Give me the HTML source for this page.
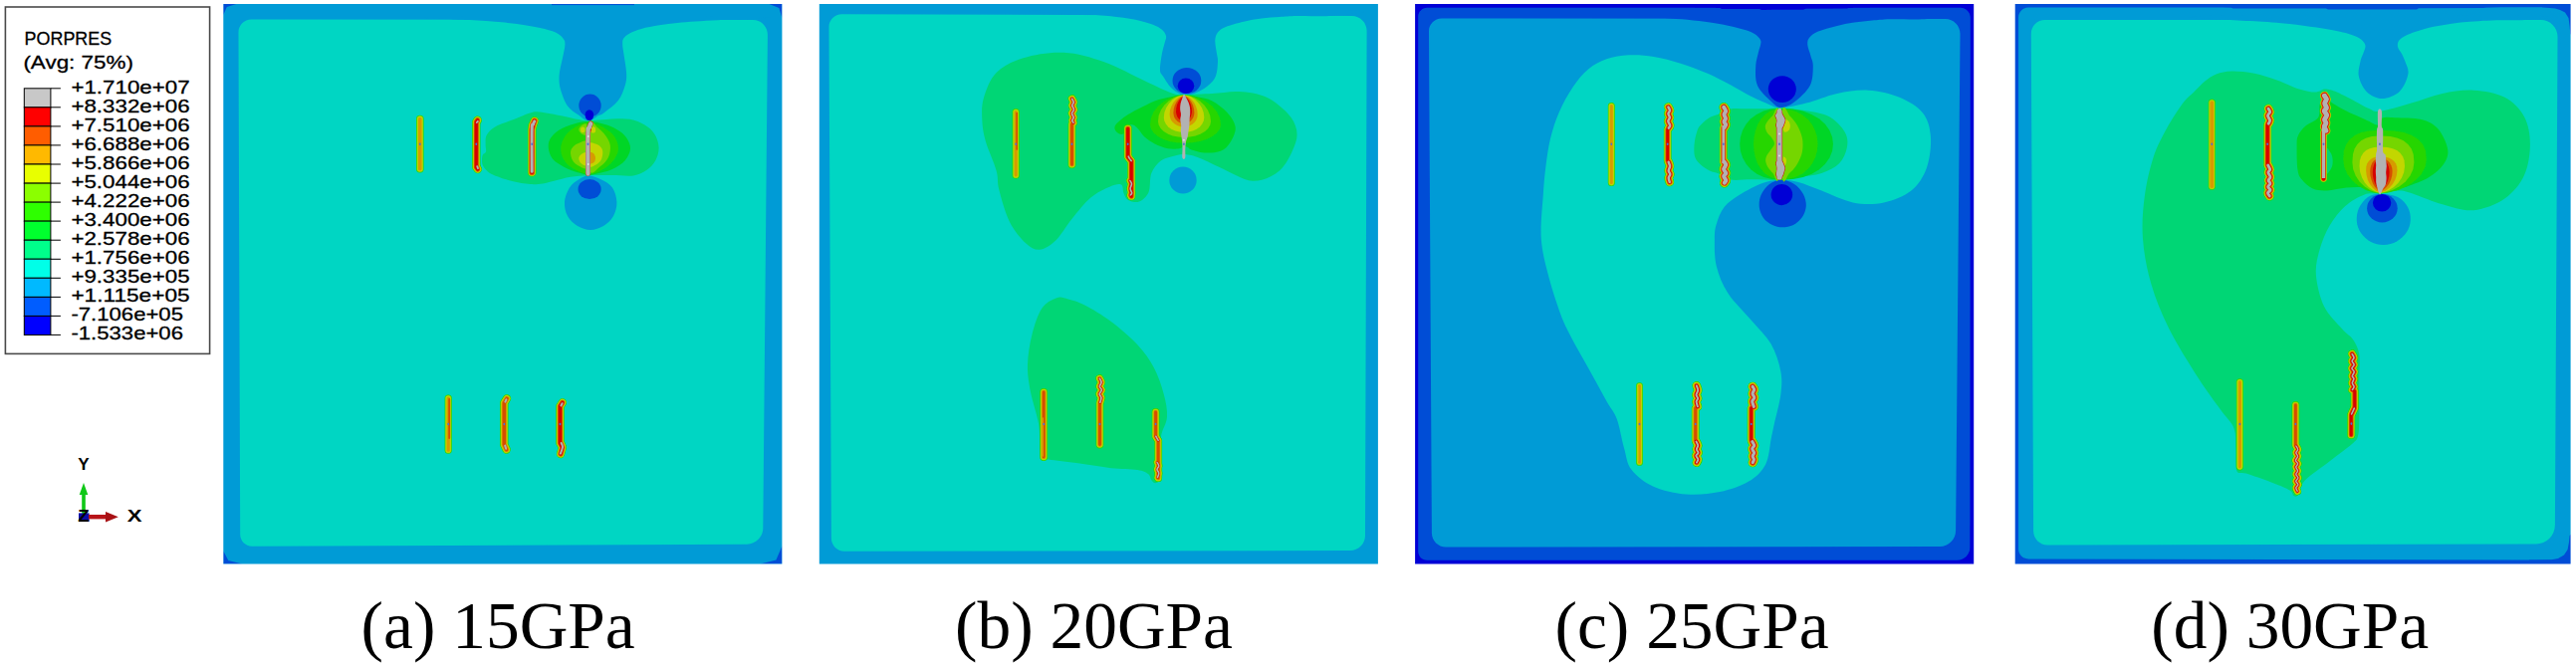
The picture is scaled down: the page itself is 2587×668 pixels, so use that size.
<!DOCTYPE html>
<html lang="en">
<head>
<meta charset="utf-8">
<title>PORPRES contour plots</title>
<style>
html,body{margin:0;padding:0;background:#fff;}
body{width:2587px;height:668px;overflow:hidden;font-family:"Liberation Sans",sans-serif;}
svg{display:block;position:absolute;left:0;top:0;}
.lg text{font-family:"Liberation Sans",sans-serif;fill:#000;stroke:#000;stroke-width:0.3px;}
.tri text{stroke:none;}
.cap text{font-family:"Liberation Serif",serif;fill:#000;}
</style>
</head>
<body>
<svg width="2587" height="668" viewBox="0 0 2587 668">
<defs>
<filter id="soft" x="-1%" y="-1%" width="102%" height="102%"><feGaussianBlur stdDeviation="0.7"/></filter>
<clipPath id="ca"><rect x="224.3" y="4.1" width="561.1" height="562.5"/></clipPath>
<clipPath id="cb"><rect x="822.8" y="4.1" width="561.1" height="562.5"/></clipPath>
<clipPath id="cc"><rect x="1421.1" y="4.1" width="561.1" height="562.5"/></clipPath>
<clipPath id="cd"><rect x="2023.7" y="4.1" width="557.9" height="562.5"/></clipPath>
</defs>
<g class="plots">
<g clip-path="url(#ca)"><g filter="url(#soft)">
<rect x="218.3" y="-1.9" width="573.1" height="574.5" fill="#009BD6"/>
<rect x="224.3" y="4.1" width="561.1" height="562.5" fill="#009BD6"/>
<path d="M224.3 4.1L237.3 4.1L227.8 7.1L224.3 15.1Z" fill="#004ED6"/>
<path d="M224.3 566.6L243.3 566.6L229.3 563.1L224.3 553.6Z" fill="#004ED6"/>
<path d="M785.4 566.6L763.4 566.6L779.4 562.6L785.4 548.6Z" fill="#004ED6"/>
<path d="M785.4 4.1L772.4 4.1L782.4 8.1L785.4 18.1Z" fill="#004ED6"/>
<rect x="554" y="4.1" width="83" height="1" fill="#004ED6"/>
<path d="M239.5 32.6C239.5 25.4 245.3 19.6 252.5 19.6L756 19.9C764.3 19.9 770.9 26.6 770.9 34.9L766.3 530.6C766.3 539.4 759 546.6 750.2 546.7L253.2 548.7C246.6 548.8 241.2 543.4 241.2 536.8Z" fill="#00D6C3"/>
<path d="M440 17C390.8 17.4 449 18.9 457 19.6C465 20.3 477.7 20.3 488 21C498.3 21.7 509.9 22.8 519 24C528 25.2 535.8 26.6 542.3 28C548.8 29.4 554 30.8 557.9 32.6C561.8 34.4 564 36.7 565.6 38.8C567.2 40.9 567.5 41.6 567.4 45C567.3 48.4 565.8 53.9 564.8 59C563.8 64.1 561.9 70.6 561.6 75.8C561.3 81 561.6 84.9 563 90C564.4 95.1 567 102.2 570 106.5C573 110.8 577.5 113 581 115.5C584.5 118 587.6 121.4 590.9 121.5C594.2 121.6 598.5 117.3 601 116C603.5 114.7 602.7 116.2 606 113.7C609.3 111.2 617.1 105.8 620.8 101C624.5 96.2 626.6 89.8 628 85C629.4 80.2 629.3 77.2 629 72C628.7 66.8 627 58.5 626.4 54C625.8 49.5 625.2 47.5 625.2 45C625.2 42.5 624.9 40.7 626.1 38.8C627.3 36.9 629.4 35 632.4 33.4C635.4 31.8 639.1 30.2 644.1 28.9C649.1 27.5 656.2 26.3 662.2 25.3C668.2 24.3 674.2 23.6 680.2 23C686.2 22.4 691.5 21.9 698.3 21.5C705.1 21.1 713 20.6 720.8 20.3C728.6 20 739.8 20.2 745 19.6C750.2 19.1 802.8 17.4 752 17C701.2 16.6 489.2 16.6 440 17Z" fill="#009BD6"/>
<ellipse cx="592.5" cy="106" rx="11.2" ry="11.4" fill="#004ED6"/>
<ellipse cx="591.9" cy="115.6" rx="4.3" ry="5.4" fill="#0000D6"/>
<path d="M590.9 176.5C587.1 176.5 584.1 178.5 581 180.5C577.9 182.5 574.3 184.8 572 188.5C569.7 192.2 567.3 198.2 567 203C566.7 207.8 567.8 213 570 217C572.2 221 576.2 224.7 580 227C583.8 229.3 588.7 231 593 231C597.3 231 602.2 229.3 606 227C609.8 224.7 613.8 221 616 217C618.2 213 619.6 207.8 619.4 203C619.2 198.2 617.6 192.2 615 188.5C612.4 184.8 608 182.5 604 180.5C600 178.5 594.7 176.5 590.9 176.5Z" fill="#009BD6"/>
<ellipse cx="592.1" cy="190.1" rx="11.6" ry="10" fill="#004ED6"/>
<path d="M590.9 121.3C585.4 121.4 585.6 120.9 581.3 120.1C576.9 119.3 571.3 117.8 564.8 116.5C558.2 115.2 547.4 113 542 112.5C536.6 112 537 112.2 532.4 113.5C527.8 114.8 520.3 118.2 514.3 120.6C508.3 123 500.6 125.3 496.3 127.9C492 130.5 490.1 133.2 488.6 136C487.2 138.8 487.7 142.2 487.6 145C487.5 147.8 488.5 150.7 488 152.5C487.5 154.3 485.2 153.9 484.6 156C484 158.1 483.7 162.4 484.4 165C485.1 167.6 487.1 169.7 489 171.5C490.9 173.3 491.8 174.2 496 176C500.2 177.8 508.2 180.5 514.3 182C520.4 183.5 527.3 184.6 532.4 185C537.5 185.4 541 184.9 545 184.4C549 183.9 551.8 182.9 556.5 181.8C561.2 180.7 567.3 178.6 573 177.7C578.7 176.8 584 176.5 590.9 176.2C597.8 175.9 606.9 176 614.4 176C621.9 176 630.2 177.2 636 176.4C641.8 175.6 645.5 173.5 649.2 171C652.9 168.5 656.2 165 658.3 161.2C660.4 157.4 661.8 152.4 661.6 148C661.5 143.6 659.8 138.4 657.4 134.7C655 131 651.6 128.1 647.5 125.6C643.4 123.1 638.1 120.8 632.6 119.8C627.1 118.8 621.4 119.2 614.4 119.5C607.4 119.8 596.4 121.2 590.9 121.3Z" fill="#00D675"/>
<path d="M590.9 122C584.8 122 578.5 123.8 573 125.6C567.5 127.4 561.9 129.8 558.2 133C554.5 136.2 551.3 140.2 550.8 144.6C550.2 149 551.7 155.4 554.9 159.5C558.1 163.6 565.1 167 569.8 169.4C574.5 171.8 579.5 172.9 583 174C586.5 175.1 588.1 175.7 590.9 175.8C593.6 175.9 595.6 175.3 599.5 174.4C603.4 173.5 609.7 172.5 614.4 170.3C619.1 168.1 624.6 164.9 627.7 161.2C630.8 157.5 633.3 152.4 633 148C632.7 143.6 629.9 138.4 626 134.7C622.1 131 615.4 127.7 609.5 125.6C603.6 123.5 597 122 590.9 122Z" fill="#00D627"/>
<path d="M591 122.8C586.3 122.7 581.8 125.3 578 127.5C574.2 129.7 570.5 132.6 568 136C565.5 139.4 563.5 144 563.2 148C562.9 152 564 156.5 566 160C568 163.5 570.8 166.5 575 169C579.2 171.5 586.2 174.7 591 175C595.8 175.3 600 173.1 604 171C608 168.9 612.2 166 615 162.5C617.8 159 620.7 154.2 621 150C621.3 145.8 619.5 140.7 617 137C614.5 133.3 610.3 130.4 606 128C601.7 125.6 595.7 122.9 591 122.8Z" fill="#27D600"/>
<path d="M589.5 143.5C588.2 139.5 584.3 142.9 582 143.6C579.7 144.3 577 145.9 575.5 147.5C574 149.1 573.1 150.8 573 153C572.9 155.2 573.7 158.8 575 161C576.3 163.2 578.6 165.4 581 166.5C583.4 167.6 588.1 171.6 589.5 167.8C590.9 164 590.8 147.5 589.5 143.5Z" fill="#75D600"/>
<path d="M589 124.8C588.2 123.3 585.3 125 584 126C582.7 127 581.2 129.1 581.3 130.5C581.4 131.9 583.2 133.9 584.5 134.7C585.8 135.4 588.2 136.7 589 135C589.8 133.3 589.8 126.3 589 124.8Z" fill="#75D600"/>
<path d="M592 124C593.3 116.8 597.3 126 600 128C602.7 130 605.9 133 608 136C610.1 139 612.3 142.3 612.8 146C613.3 149.7 612.6 154.5 611 158C609.4 161.5 606.2 164.8 603 167C599.8 169.2 593.8 178.2 592 171C590.2 163.8 590.7 131.2 592 124Z" fill="#75D600"/>
<path d="M589.5 154C588.7 152.1 585.9 153.7 584.5 154.5C583.1 155.3 581.5 157.1 581.3 158.7C581.1 160.3 582.1 162.8 583.5 164C584.9 165.2 588.5 167.7 589.5 166C590.5 164.3 590.3 155.9 589.5 154Z" fill="#C3D600"/>
<path d="M592 145C593 141.4 596.1 144.1 598 144.6C599.9 145.1 602.3 146.6 603.5 148C604.7 149.4 605.3 150.8 605.3 153C605.3 155.2 604.7 158.9 603.5 161C602.3 163.1 599.9 164.9 598 165.8C596.1 166.7 593 169.7 592 166.2C591 162.7 591 148.6 592 145Z" fill="#C3D600"/>
<ellipse cx="595.6" cy="130.4" rx="2.6" ry="3.2" fill="#C3D600"/>
<ellipse cx="585.3" cy="130.4" rx="2.2" ry="2.8" fill="#C3D600"/>
<path d="M592 153.7C592.7 152.1 595 153.2 596 154C597 154.8 597.9 157 598 158.5C598.1 160 597.5 162.1 596.5 163C595.5 163.9 592.8 165.4 592 163.8C591.2 162.2 591.3 155.3 592 153.7Z" fill="#D69B00"/>
<path d="M421.8 119.6L421.8 169.8" fill="none" stroke="#27D600" stroke-width="7.5" stroke-linecap="round" stroke-linejoin="round"/>
<path d="M421.8 119.6L421.8 169.8" fill="none" stroke="#75D600" stroke-width="6.6" stroke-linecap="round" stroke-linejoin="round"/>
<path d="M421.8 119.6L421.8 169.8" fill="none" stroke="#C3D600" stroke-width="5.5" stroke-linecap="round" stroke-linejoin="round"/>
<path d="M421.8 119.6L421.8 169.8" fill="none" stroke="#D69B00" stroke-width="3.5" stroke-linecap="round" stroke-linejoin="round"/>
<ellipse cx="421.8" cy="144.7" rx="0.9" ry="1.3" fill="#4F6FD0"/>
<path d="M479.6 120.6L478.3 122.6L478.3 168L479.8 170" fill="none" stroke="#27D600" stroke-width="8.3" stroke-linecap="round" stroke-linejoin="round"/>
<path d="M478.8 123L479.9 121.8" fill="none" stroke="#27D600" stroke-width="7" stroke-linecap="round" stroke-linejoin="round"/>
<path d="M479.2 167.2L480 169.2" fill="none" stroke="#27D600" stroke-width="7" stroke-linecap="round" stroke-linejoin="round"/>
<path d="M479.6 120.6L478.3 122.6L478.3 168L479.8 170" fill="none" stroke="#75D600" stroke-width="7.4" stroke-linecap="round" stroke-linejoin="round"/>
<path d="M478.8 123L479.9 121.8" fill="none" stroke="#75D600" stroke-width="6.1" stroke-linecap="round" stroke-linejoin="round"/>
<path d="M479.2 167.2L480 169.2" fill="none" stroke="#75D600" stroke-width="6.1" stroke-linecap="round" stroke-linejoin="round"/>
<path d="M479.6 120.6L478.3 122.6L478.3 168L479.8 170" fill="none" stroke="#C3D600" stroke-width="6.5" stroke-linecap="round" stroke-linejoin="round"/>
<path d="M478.8 123L479.9 121.8" fill="none" stroke="#C3D600" stroke-width="5.2" stroke-linecap="round" stroke-linejoin="round"/>
<path d="M479.2 167.2L480 169.2" fill="none" stroke="#C3D600" stroke-width="5.2" stroke-linecap="round" stroke-linejoin="round"/>
<path d="M479.6 120.6L478.3 122.6L478.3 168L479.8 170" fill="none" stroke="#D69B00" stroke-width="5.5" stroke-linecap="round" stroke-linejoin="round"/>
<path d="M478.8 123L479.9 121.8" fill="none" stroke="#D69B00" stroke-width="4.2" stroke-linecap="round" stroke-linejoin="round"/>
<path d="M479.2 167.2L480 169.2" fill="none" stroke="#D69B00" stroke-width="4.2" stroke-linecap="round" stroke-linejoin="round"/>
<path d="M479.6 120.6L478.3 122.6L478.3 168L479.8 170" fill="none" stroke="#D64E00" stroke-width="4.5" stroke-linecap="round" stroke-linejoin="round"/>
<path d="M478.8 123L479.9 121.8" fill="none" stroke="#D64E00" stroke-width="3.2" stroke-linecap="round" stroke-linejoin="round"/>
<path d="M479.2 167.2L480 169.2" fill="none" stroke="#D64E00" stroke-width="3.2" stroke-linecap="round" stroke-linejoin="round"/>
<path d="M479.6 120.6L478.3 122.6L478.3 168L479.8 170" fill="none" stroke="#D60000" stroke-width="3.1" stroke-linecap="round" stroke-linejoin="round"/>
<path d="M478.8 123L479.9 121.8" fill="none" stroke="#B2B2B2" stroke-width="1.8" stroke-linecap="round" stroke-linejoin="round"/>
<path d="M479.2 167.2L480 169.2" fill="none" stroke="#B2B2B2" stroke-width="1.8" stroke-linecap="round" stroke-linejoin="round"/>
<ellipse cx="478.3" cy="144.7" rx="0.9" ry="1.3" fill="#4F6FD0"/>
<path d="M534.2 173.2L534.2 130L535.4 125L536.8 121.4" fill="none" stroke="#27D600" stroke-width="8.6" stroke-linecap="round" stroke-linejoin="round"/>
<path d="M534.2 172.2C534.2 165.2 534 137.9 534.2 130C534.4 122.1 535 126.4 535.4 125C535.8 123.6 536.6 122.3 536.8 121.8" fill="none" stroke="#27D600" stroke-width="8" stroke-linecap="round" stroke-linejoin="round"/>
<path d="M534.2 173.2L534.2 130L535.4 125L536.8 121.4" fill="none" stroke="#75D600" stroke-width="7.6" stroke-linecap="round" stroke-linejoin="round"/>
<path d="M534.2 172.2C534.2 165.2 534 137.9 534.2 130C534.4 122.1 535 126.4 535.4 125C535.8 123.6 536.6 122.3 536.8 121.8" fill="none" stroke="#75D600" stroke-width="7" stroke-linecap="round" stroke-linejoin="round"/>
<path d="M534.2 173.2L534.2 130L535.4 125L536.8 121.4" fill="none" stroke="#C3D600" stroke-width="6.8" stroke-linecap="round" stroke-linejoin="round"/>
<path d="M534.2 172.2C534.2 165.2 534 137.9 534.2 130C534.4 122.1 535 126.4 535.4 125C535.8 123.6 536.6 122.3 536.8 121.8" fill="none" stroke="#C3D600" stroke-width="6.2" stroke-linecap="round" stroke-linejoin="round"/>
<path d="M534.2 173.2L534.2 130L535.4 125L536.8 121.4" fill="none" stroke="#D69B00" stroke-width="6" stroke-linecap="round" stroke-linejoin="round"/>
<path d="M534.2 172.2C534.2 165.2 534 137.9 534.2 130C534.4 122.1 535 126.4 535.4 125C535.8 123.6 536.6 122.3 536.8 121.8" fill="none" stroke="#D69B00" stroke-width="5.3" stroke-linecap="round" stroke-linejoin="round"/>
<path d="M534.2 173.2L534.2 130L535.4 125L536.8 121.4" fill="none" stroke="#D64E00" stroke-width="5.2" stroke-linecap="round" stroke-linejoin="round"/>
<path d="M534.2 172.2C534.2 165.2 534 137.9 534.2 130C534.4 122.1 535 126.4 535.4 125C535.8 123.6 536.6 122.3 536.8 121.8" fill="none" stroke="#D64E00" stroke-width="4.5" stroke-linecap="round" stroke-linejoin="round"/>
<path d="M534.2 173.2L534.2 130L535.4 125L536.8 121.4" fill="none" stroke="#D60000" stroke-width="3.6" stroke-linecap="round" stroke-linejoin="round"/>
<path d="M534.2 172.2C534.2 165.2 534 137.9 534.2 130C534.4 122.1 535 126.4 535.4 125C535.8 123.6 536.6 122.3 536.8 121.8" fill="none" stroke="#B2B2B2" stroke-width="3" stroke-linecap="round" stroke-linejoin="round"/>
<ellipse cx="534.2" cy="144.7" rx="0.9" ry="1.3" fill="#4F6FD0"/>
<path d="M590.5 174.5L590.5 134L591.8 128L593.2 124" fill="none" stroke="#D60000" stroke-width="4.8" stroke-linecap="round" stroke-linejoin="round"/>
<path d="M590.5 174.5C590.5 167.8 590.3 141.8 590.5 134C590.7 126.2 591.3 129.6 591.8 128C592.2 126.4 593 124.8 593.2 124.2" fill="none" stroke="#B2B2B2" stroke-width="4.3" stroke-linecap="round" stroke-linejoin="round"/>
<ellipse cx="590.5" cy="144.7" rx="0.9" ry="1.3" fill="#4F6FD0"/>
<path d="M590.6 174L590.6 176.2" fill="none" stroke="#B2B2B2" stroke-width="2.8" stroke-linecap="butt" stroke-linejoin="round"/>
<ellipse cx="590.8" cy="137" rx="0.9" ry="0.9" fill="#E6E6E6"/>
<ellipse cx="590.8" cy="165" rx="0.9" ry="0.9" fill="#E6E6E6"/>
<path d="M450.2 400L450.2 452.2" fill="none" stroke="#27D600" stroke-width="7.2" stroke-linecap="round" stroke-linejoin="round"/>
<path d="M450.2 400L450.2 452.2" fill="none" stroke="#75D600" stroke-width="6.2" stroke-linecap="round" stroke-linejoin="round"/>
<path d="M450.2 400L450.2 452.2" fill="none" stroke="#C3D600" stroke-width="5.2" stroke-linecap="round" stroke-linejoin="round"/>
<path d="M450.2 400L450.2 452.2" fill="none" stroke="#D69B00" stroke-width="3.2" stroke-linecap="round" stroke-linejoin="round"/>
<path d="M451.2 401L451.2 440" fill="none" stroke="#D64E00" stroke-width="1.9" stroke-linecap="round" stroke-linejoin="round"/>
<ellipse cx="450.2" cy="426" rx="0.9" ry="1.3" fill="#4F6FD0"/>
<path d="M509 400.4L506.3 404.8L506.3 446.6L508.6 451.6" fill="none" stroke="#27D600" stroke-width="8.4" stroke-linecap="round" stroke-linejoin="round"/>
<path d="M507.4 403.6L508.4 401.4" fill="none" stroke="#27D600" stroke-width="6.9" stroke-linecap="round" stroke-linejoin="round"/>
<path d="M507.2 447.6L508.2 450.8" fill="none" stroke="#27D600" stroke-width="6.9" stroke-linecap="round" stroke-linejoin="round"/>
<path d="M509 400.4L506.3 404.8L506.3 446.6L508.6 451.6" fill="none" stroke="#75D600" stroke-width="7.3" stroke-linecap="round" stroke-linejoin="round"/>
<path d="M507.4 403.6L508.4 401.4" fill="none" stroke="#75D600" stroke-width="5.8" stroke-linecap="round" stroke-linejoin="round"/>
<path d="M507.2 447.6L508.2 450.8" fill="none" stroke="#75D600" stroke-width="5.8" stroke-linecap="round" stroke-linejoin="round"/>
<path d="M509 400.4L506.3 404.8L506.3 446.6L508.6 451.6" fill="none" stroke="#C3D600" stroke-width="6.5" stroke-linecap="round" stroke-linejoin="round"/>
<path d="M507.4 403.6L508.4 401.4" fill="none" stroke="#C3D600" stroke-width="5" stroke-linecap="round" stroke-linejoin="round"/>
<path d="M507.2 447.6L508.2 450.8" fill="none" stroke="#C3D600" stroke-width="5" stroke-linecap="round" stroke-linejoin="round"/>
<path d="M509 400.4L506.3 404.8L506.3 446.6L508.6 451.6" fill="none" stroke="#D69B00" stroke-width="5.2" stroke-linecap="round" stroke-linejoin="round"/>
<path d="M507.4 403.6L508.4 401.4" fill="none" stroke="#D69B00" stroke-width="3.8" stroke-linecap="round" stroke-linejoin="round"/>
<path d="M507.2 447.6L508.2 450.8" fill="none" stroke="#D69B00" stroke-width="3.8" stroke-linecap="round" stroke-linejoin="round"/>
<path d="M509 400.4L506.3 404.8L506.3 446.6L508.6 451.6" fill="none" stroke="#D64E00" stroke-width="3.5" stroke-linecap="round" stroke-linejoin="round"/>
<path d="M507.4 403.6L508.4 401.4" fill="none" stroke="#B2B2B2" stroke-width="2" stroke-linecap="round" stroke-linejoin="round"/>
<path d="M507.2 447.6L508.2 450.8" fill="none" stroke="#B2B2B2" stroke-width="2" stroke-linecap="round" stroke-linejoin="round"/>
<ellipse cx="506.3" cy="426" rx="0.9" ry="1.3" fill="#4F6FD0"/>
<path d="M564.8 404.4L562.5 408L562.5 445L564.8 449.5L563 456" fill="none" stroke="#27D600" stroke-width="8.4" stroke-linecap="round" stroke-linejoin="round"/>
<path d="M563.4 407.4L564.6 405.2" fill="none" stroke="#27D600" stroke-width="7.2" stroke-linecap="round" stroke-linejoin="round"/>
<path d="M563.6 445C563.8 445.7 565.1 447.2 565 449C564.9 450.8 563.2 454.5 562.8 455.6" fill="none" stroke="#27D600" stroke-width="7.2" stroke-linecap="round" stroke-linejoin="round"/>
<path d="M564.8 404.4L562.5 408L562.5 445L564.8 449.5L563 456" fill="none" stroke="#75D600" stroke-width="7.5" stroke-linecap="round" stroke-linejoin="round"/>
<path d="M563.4 407.4L564.6 405.2" fill="none" stroke="#75D600" stroke-width="6.3" stroke-linecap="round" stroke-linejoin="round"/>
<path d="M563.6 445C563.8 445.7 565.1 447.2 565 449C564.9 450.8 563.2 454.5 562.8 455.6" fill="none" stroke="#75D600" stroke-width="6.3" stroke-linecap="round" stroke-linejoin="round"/>
<path d="M564.8 404.4L562.5 408L562.5 445L564.8 449.5L563 456" fill="none" stroke="#C3D600" stroke-width="6.7" stroke-linecap="round" stroke-linejoin="round"/>
<path d="M563.4 407.4L564.6 405.2" fill="none" stroke="#C3D600" stroke-width="5.5" stroke-linecap="round" stroke-linejoin="round"/>
<path d="M563.6 445C563.8 445.7 565.1 447.2 565 449C564.9 450.8 563.2 454.5 562.8 455.6" fill="none" stroke="#C3D600" stroke-width="5.5" stroke-linecap="round" stroke-linejoin="round"/>
<path d="M564.8 404.4L562.5 408L562.5 445L564.8 449.5L563 456" fill="none" stroke="#D69B00" stroke-width="5.7" stroke-linecap="round" stroke-linejoin="round"/>
<path d="M563.4 407.4L564.6 405.2" fill="none" stroke="#D69B00" stroke-width="4.5" stroke-linecap="round" stroke-linejoin="round"/>
<path d="M563.6 445C563.8 445.7 565.1 447.2 565 449C564.9 450.8 563.2 454.5 562.8 455.6" fill="none" stroke="#D69B00" stroke-width="4.5" stroke-linecap="round" stroke-linejoin="round"/>
<path d="M564.8 404.4L562.5 408L562.5 445L564.8 449.5L563 456" fill="none" stroke="#D64E00" stroke-width="4.7" stroke-linecap="round" stroke-linejoin="round"/>
<path d="M563.4 407.4L564.6 405.2" fill="none" stroke="#D64E00" stroke-width="3.4" stroke-linecap="round" stroke-linejoin="round"/>
<path d="M563.6 445C563.8 445.7 565.1 447.2 565 449C564.9 450.8 563.2 454.5 562.8 455.6" fill="none" stroke="#D64E00" stroke-width="3.4" stroke-linecap="round" stroke-linejoin="round"/>
<path d="M564.8 404.4L562.5 408L562.5 445L564.8 449.5L563 456" fill="none" stroke="#D60000" stroke-width="3.2" stroke-linecap="round" stroke-linejoin="round"/>
<path d="M563.4 407.4L564.6 405.2" fill="none" stroke="#B2B2B2" stroke-width="2" stroke-linecap="round" stroke-linejoin="round"/>
<path d="M563.6 445C563.8 445.7 565.1 447.2 565 449C564.9 450.8 563.2 454.5 562.8 455.6" fill="none" stroke="#B2B2B2" stroke-width="2" stroke-linecap="round" stroke-linejoin="round"/>
<ellipse cx="562.5" cy="426" rx="0.9" ry="1.3" fill="#4F6FD0"/>
</g></g>
<g clip-path="url(#cb)"><g filter="url(#soft)">
<rect x="816.8" y="-1.9" width="573.1" height="574.5" fill="#009BD6"/>
<rect x="822.8" y="4.1" width="561.1" height="562.5" fill="#009BD6"/>
<path d="M832.5 27.2C832.4 20 838.2 14.2 845.4 14.2L1357.6 15.9C1365.9 15.9 1372.6 22.6 1372.6 30.9L1371 538C1371 546.3 1364.3 553 1356 553L848 553.8C840.8 553.8 835 548 834.9 540.8Z" fill="#00D6C3"/>
<path d="M1050 10C1004 10.7 1065 13.2 1074 14.1C1083 15 1095 14.7 1103.7 15.3C1112.4 15.9 1119.5 16.7 1126.3 17.6C1133.1 18.5 1139 19.5 1144.3 20.7C1149.6 21.9 1154.1 23.3 1157.9 24.8C1161.7 26.3 1164.7 27.9 1166.9 29.8C1169.1 31.7 1170.5 33.9 1171 36.1C1171.5 38.4 1170.3 40.3 1169.6 43.3C1168.9 46.3 1167.7 49.6 1166.9 54.1C1166.1 58.6 1164.8 66.7 1165 70.4C1165.2 74.1 1166.2 73.6 1168 76.5C1169.8 79.4 1173.2 85.1 1176 88C1178.8 90.9 1182.3 92.8 1184.5 94C1186.7 95.2 1186.5 95.2 1189 95.2C1191.5 95.2 1195.4 95.5 1199.3 94C1203.2 92.5 1209 89.4 1212.6 86.5C1216.2 83.6 1219.2 80.6 1220.9 76.5C1222.6 72.4 1222.8 65.8 1223 62C1223.2 58.2 1222.5 57.6 1222 54C1221.5 50.4 1220.1 44.2 1220.3 40.6C1220.5 37 1221.2 34.8 1223 32.5C1224.8 30.2 1226.7 28.8 1231 27C1235.3 25.2 1243 23.1 1249 21.7C1255 20.3 1261 19.3 1267 18.5C1273 17.7 1279 17.4 1285 17C1291 16.6 1293.8 16.2 1303 16C1312.2 15.8 1332.2 16.8 1340 15.8C1347.8 14.8 1398.3 11 1350 10C1301.7 9 1096 9.3 1050 10Z" fill="#009BD6"/>
<ellipse cx="1191.9" cy="81" rx="14.4" ry="13" fill="#004ED6"/>
<ellipse cx="1191" cy="86.3" rx="8.3" ry="7.8" fill="#0000D6"/>
<path d="M1189 95C1182.2 94.9 1183.3 95.7 1176.7 93.4C1170.1 91.1 1160.9 86.4 1149.6 81.2C1138.3 76 1122.5 67 1109 62.3C1095.5 57.6 1081.8 53.5 1068.3 52.8C1054.8 52.1 1039 54.8 1027.7 58.2C1016.4 61.6 1007.2 66.4 1000.6 73C994 79.6 990.4 90.2 988 98C985.6 105.8 986 112.7 986.3 120C986.6 127.3 987.4 133.1 989.8 141.7C992.2 150.3 998.4 163.3 1000.6 171.4C1002.9 179.5 1001.1 181.8 1003.3 190.4C1005.5 199 1009.5 213.9 1014 222.9C1018.5 231.9 1025.4 239.8 1030.4 244.5C1035.4 249.2 1039.1 251.2 1044 250.8C1048.9 250.4 1054.6 246.9 1060 241.8C1065.4 236.7 1070.5 227.2 1076.4 220C1082.3 212.8 1089.1 203.9 1095.4 198.5C1101.7 193.1 1109.2 189.9 1114.3 187.7C1119.4 185.5 1123.6 184.4 1126 185.5C1128.4 186.6 1127.3 191.4 1128.5 194C1129.7 196.6 1130.4 199.6 1133 201C1135.6 202.4 1140.6 203.9 1144 202.6C1147.4 201.3 1151.5 197.8 1153.6 193C1155.6 188.2 1154.3 179.2 1156.3 174C1158.3 168.8 1162.5 164.3 1165.8 161.6C1169.1 158.9 1172.2 158.7 1176 157.6C1179.8 156.5 1184 154.9 1188.5 155C1193 155.1 1196.5 155.8 1202.7 158C1208.9 160.2 1216.6 164.6 1225.8 168.5C1235 172.4 1247.9 181.2 1257.8 181.7C1267.7 182.2 1277.9 177.2 1284.9 171.4C1291.9 165.6 1297 153.9 1299.8 147C1302.6 140.1 1303.1 135.6 1302 130C1300.9 124.5 1298.1 119.1 1293 113.7C1287.9 108.3 1279.6 101.1 1271.5 97.5C1263.4 93.9 1253.4 92.6 1244.4 92C1235.4 91.4 1226.5 93.5 1217.3 94C1208.1 94.5 1195.8 95.1 1189 95Z" fill="#00D675"/>
<ellipse cx="1188" cy="181" rx="13.7" ry="13.6" fill="#009BD6"/>
<path d="M1189 95.3C1184.6 95.3 1181.1 96.2 1176.2 97.2C1171.3 98.2 1165.1 99.3 1159.6 101.4C1154.1 103.5 1148 107 1143 109.6C1138 112.2 1133.8 114.2 1129.9 117C1126.1 119.8 1121.3 123.6 1119.9 126.2C1118.5 128.8 1120.2 131.4 1121.6 132.8C1122.9 134.2 1126.2 135.6 1128 134.5C1129.8 133.4 1130.8 127.5 1132.5 126C1134.2 124.5 1136.2 124.9 1138 125.5C1139.8 126.1 1141 127.5 1143 129.5C1145 131.6 1146.9 135.3 1149.7 137.8C1152.5 140.3 1155.7 142.5 1159.6 144.4C1163.5 146.3 1168.8 148.5 1172.9 149.3C1177.1 150.1 1181.8 149.7 1184.5 149.3C1187.2 148.9 1187.4 147.2 1188.8 147C1190.2 146.8 1191.8 147.5 1193 148C1194.2 148.5 1193.3 149.3 1196 150.2C1198.7 151.1 1204.3 153.2 1209.3 153.5C1214.3 153.8 1221.4 153.6 1225.8 151.8C1230.2 150 1233.2 146.7 1235.7 142.7C1238.2 138.7 1241.2 132.8 1240.7 127.8C1240.2 122.8 1236.3 117.4 1232.4 113C1228.5 108.6 1222.5 104 1217.5 101.4C1212.5 98.8 1207.3 98.2 1202.6 97.2C1197.8 96.2 1193.4 95.3 1189 95.3Z" fill="#00D627"/>
<path d="M1189 95.4L1182.5 96.1L1175.4 98.3L1168.8 101.9L1163.1 106.5L1158.7 112.2L1155.9 118.4L1155 125L1155.9 129.2L1158.4 133.2L1162.4 136.7L1167.8 139.7L1174.2 141.9L1181.4 143.3L1189 143.8L1197.2 143.3L1205.1 141.9L1212.1 139.7L1217.9 136.7L1222.3 133.2L1225.1 129.2L1226 125L1225 118.4L1222 112.2L1217.2 106.5L1211 101.9L1203.8 98.3L1196.1 96.1Z" fill="#27D600"/>
<path d="M1189 95.4L1184.4 96.1L1179 98L1173.9 101.2L1169.4 105.4L1165.9 110.5L1163.7 116.1L1163 122L1163.7 125.6L1165.6 128.9L1168.7 132L1172.8 134.5L1177.7 136.4L1183.2 137.6L1189 138L1195 137.6L1200.7 136.4L1205.8 134.5L1210.1 132L1213.3 128.9L1215.3 125.6L1216 122L1215.2 116.1L1212.9 110.5L1209.3 105.4L1204.7 101.2L1199.3 98L1193.8 96.1Z" fill="#75D600"/>
<path d="M1189 95.4L1185.7 96L1181.6 97.6L1177.5 100.3L1174 103.9L1171.2 108.2L1169.4 113L1168.8 118L1169.3 121.3L1170.8 124.5L1173.2 127.4L1176.4 129.7L1180.2 131.5L1184.5 132.6L1189 133L1193.5 132.6L1197.8 131.5L1201.7 129.7L1204.9 127.4L1207.3 124.5L1208.8 121.3L1209.3 118L1208.7 113L1206.9 108.2L1204.1 103.9L1200.5 100.3L1196.5 97.6L1192.3 96Z" fill="#C3D600"/>
<path d="M1189 95.9L1186.8 96.4L1183.9 97.8L1181 100.1L1178.4 103.1L1176.4 106.7L1175 110.7L1174.6 115L1175 117.8L1176 120.4L1177.7 122.8L1180 124.8L1182.8 126.3L1185.8 127.2L1189 127.5L1192 127.2L1194.9 126.3L1197.5 124.8L1199.7 122.8L1201.3 120.4L1202.4 117.8L1202.7 115L1202.3 110.7L1201 106.7L1199.1 103.1L1196.6 100.1L1193.8 97.8L1191.1 96.4Z" fill="#D69B00"/>
<path d="M1189 96.4L1187.5 96.8L1185.4 98.1L1183.3 100.1L1181.3 102.8L1179.7 106.1L1178.7 109.7L1178.4 113.5L1178.7 115.8L1179.4 118.1L1180.7 120L1182.4 121.7L1184.4 123L1186.6 123.7L1189 124L1191.3 123.7L1193.5 123L1195.5 121.7L1197.1 120L1198.4 118.1L1199.1 115.8L1199.4 113.5L1199.1 109.7L1198.1 106.1L1196.6 102.8L1194.6 100.1L1192.5 98.1L1190.5 96.8Z" fill="#D64E00"/>
<path d="M1189 96.9L1187.9 97.3L1186.3 98.4L1184.7 100.2L1183.2 102.6L1182 105.4L1181.3 108.6L1181 112L1181.2 114.1L1181.8 116.1L1182.7 117.9L1184 119.4L1185.5 120.6L1187.2 121.3L1189 121.5L1190.8 121.3L1192.5 120.6L1194 119.4L1195.3 117.9L1196.2 116.1L1196.8 114.1L1197 112L1196.7 108.6L1196 105.4L1194.8 102.6L1193.3 100.2L1191.7 98.4L1190.1 97.3Z" fill="#D60000"/>
<path d="M1189 94.8C1188.3 94.8 1187.8 97.5 1187.2 99C1186.6 100.5 1185.9 102.2 1185.6 104C1185.3 105.8 1185.1 108.2 1185.2 110C1185.3 111.8 1186 113.3 1186 115C1186 116.7 1185.3 118.2 1185.3 120C1185.3 121.8 1186.1 124.2 1186.2 126C1186.3 127.8 1185.8 129.2 1185.8 131C1185.8 132.8 1186.2 134.6 1186.4 136.5C1186.6 138.4 1187 140.2 1187.2 142.5C1187.4 144.8 1187.5 147.3 1187.5 150C1187.5 152.7 1187 157.3 1187.5 158.8C1188 160.3 1189.7 160.3 1190.2 158.8C1190.7 157.3 1190.2 152.7 1190.3 150C1190.4 147.3 1190.6 144.7 1191 142.5C1191.4 140.3 1192.4 138.9 1192.8 137C1193.2 135.1 1193.3 132.8 1193.6 131C1193.9 129.2 1194.2 127.8 1194.4 126C1194.6 124.2 1194.5 122 1194.6 120C1194.7 118 1195.1 116 1195.2 114C1195.3 112 1195.3 109.8 1195 108C1194.7 106.2 1194.2 104.5 1193.6 103C1193 101.5 1192.4 100.4 1191.6 99C1190.8 97.6 1189.7 94.8 1189 94.8Z" fill="#B2B2B2"/>
<ellipse cx="1188.9" cy="140.7" rx="0.9" ry="0.9" fill="#E6E6E6"/>
<ellipse cx="1188.9" cy="144.7" rx="0.9" ry="1.2" fill="#4F6FD0"/>
<path d="M1061.2 299.2C1056.8 300.8 1050.4 303.6 1046.3 309.8C1042.2 316 1038.8 326.8 1036.4 336.2C1034 345.6 1032.3 356.6 1032 366C1031.7 375.4 1032.9 382.6 1034.7 392.5C1036.5 402.4 1041.4 416 1043 425.6C1044.6 435.2 1043.8 444.4 1044.2 450C1044.7 455.6 1044.2 457.6 1045.7 459.5C1047.2 461.4 1046.8 460.6 1053 461.6C1059.2 462.6 1072.2 463.9 1082.7 465.3C1093.2 466.7 1105.9 469.1 1115.8 470.2C1125.7 471.3 1136.1 470.9 1142.3 471.9C1148.5 472.9 1150.6 474.2 1153 476C1155.4 477.8 1155.2 481 1156.5 482.5C1157.8 484 1159 485.4 1160.5 485.2C1162 484.9 1164.4 484.4 1165.4 481C1166.4 477.6 1166.4 472 1166.5 465C1166.6 458 1165.1 446.5 1166 438.8C1166.9 431.1 1171.5 426.2 1172 419C1172.5 411.8 1170.9 404.1 1168.7 395.8C1166.5 387.5 1163.2 377.6 1158.8 369.3C1154.4 361 1149.5 353.9 1142.3 346.2C1135.1 338.5 1124.6 329.6 1115.8 323C1107 316.4 1096.5 310.2 1089.3 306.5C1082.1 302.8 1077.5 301.7 1072.8 300.5C1068.1 299.3 1065.6 297.6 1061.2 299.2Z" fill="#00D675"/>
<path d="M1020.2 112.6L1020.2 176" fill="none" stroke="#27D600" stroke-width="7.2" stroke-linecap="round" stroke-linejoin="round"/>
<path d="M1020.2 112.6L1020.2 176" fill="none" stroke="#75D600" stroke-width="6.2" stroke-linecap="round" stroke-linejoin="round"/>
<path d="M1020.2 112.6L1020.2 176" fill="none" stroke="#C3D600" stroke-width="5.2" stroke-linecap="round" stroke-linejoin="round"/>
<path d="M1020.2 112.6L1020.2 176" fill="none" stroke="#D69B00" stroke-width="3.2" stroke-linecap="round" stroke-linejoin="round"/>
<path d="M1021.2 113.6L1021.2 150" fill="none" stroke="#D64E00" stroke-width="1.7" stroke-linecap="round" stroke-linejoin="round"/>
<ellipse cx="1020.2" cy="144.7" rx="0.9" ry="1.3" fill="#4F6FD0"/>
<path d="M1076.6 99.2L1078.3 102.8L1076.7 105.9L1078.5 110.1L1076.5 113.8L1078.2 118.1L1076.8 121L1078 123.2L1076.5 124.7L1076.5 165.2" fill="none" stroke="#27D600" stroke-width="7.9" stroke-linecap="round" stroke-linejoin="round"/>
<path d="M1076.6 99.2C1076.8 99.8 1078.2 101.7 1078.3 102.8C1078.3 103.9 1076.7 104.7 1076.7 105.9C1076.8 107.1 1078.6 108.7 1078.5 110.1C1078.5 111.4 1076.6 112.4 1076.5 113.8C1076.4 115.1 1078.1 116.9 1078.2 118.1C1078.2 119.3 1076.8 120.2 1076.8 121C1076.7 121.9 1077.8 122.8 1078 123.2" fill="none" stroke="#27D600" stroke-width="7.7" stroke-linecap="round" stroke-linejoin="round"/>
<path d="M1076.6 99.2L1078.3 102.8L1076.7 105.9L1078.5 110.1L1076.5 113.8L1078.2 118.1L1076.8 121L1078 123.2L1076.5 124.7L1076.5 165.2" fill="none" stroke="#75D600" stroke-width="6.8" stroke-linecap="round" stroke-linejoin="round"/>
<path d="M1076.6 99.2C1076.8 99.8 1078.2 101.7 1078.3 102.8C1078.3 103.9 1076.7 104.7 1076.7 105.9C1076.8 107.1 1078.6 108.7 1078.5 110.1C1078.5 111.4 1076.6 112.4 1076.5 113.8C1076.4 115.1 1078.1 116.9 1078.2 118.1C1078.2 119.3 1076.8 120.2 1076.8 121C1076.7 121.9 1077.8 122.8 1078 123.2" fill="none" stroke="#75D600" stroke-width="6.7" stroke-linecap="round" stroke-linejoin="round"/>
<path d="M1076.6 99.2L1078.3 102.8L1076.7 105.9L1078.5 110.1L1076.5 113.8L1078.2 118.1L1076.8 121L1078 123.2L1076.5 124.7L1076.5 165.2" fill="none" stroke="#C3D600" stroke-width="6" stroke-linecap="round" stroke-linejoin="round"/>
<path d="M1076.6 99.2C1076.8 99.8 1078.2 101.7 1078.3 102.8C1078.3 103.9 1076.7 104.7 1076.7 105.9C1076.8 107.1 1078.6 108.7 1078.5 110.1C1078.5 111.4 1076.6 112.4 1076.5 113.8C1076.4 115.1 1078.1 116.9 1078.2 118.1C1078.2 119.3 1076.8 120.2 1076.8 121C1076.7 121.9 1077.8 122.8 1078 123.2" fill="none" stroke="#C3D600" stroke-width="5.8" stroke-linecap="round" stroke-linejoin="round"/>
<path d="M1076.6 99.2L1078.3 102.8L1076.7 105.9L1078.5 110.1L1076.5 113.8L1078.2 118.1L1076.8 121L1078 123.2L1076.5 124.7L1076.5 165.2" fill="none" stroke="#D69B00" stroke-width="4.8" stroke-linecap="round" stroke-linejoin="round"/>
<path d="M1076.6 99.2C1076.8 99.8 1078.2 101.7 1078.3 102.8C1078.3 103.9 1076.7 104.7 1076.7 105.9C1076.8 107.1 1078.6 108.7 1078.5 110.1C1078.5 111.4 1076.6 112.4 1076.5 113.8C1076.4 115.1 1078.1 116.9 1078.2 118.1C1078.2 119.3 1076.8 120.2 1076.8 121C1076.7 121.9 1077.8 122.8 1078 123.2" fill="none" stroke="#D69B00" stroke-width="4.5" stroke-linecap="round" stroke-linejoin="round"/>
<path d="M1076.6 99.2L1078.3 102.8L1076.7 105.9L1078.5 110.1L1076.5 113.8L1078.2 118.1L1076.8 121L1078 123.2L1076.5 124.7L1076.5 165.2" fill="none" stroke="#D64E00" stroke-width="3" stroke-linecap="round" stroke-linejoin="round"/>
<path d="M1076.6 99.2C1076.8 99.8 1078.2 101.7 1078.3 102.8C1078.3 103.9 1076.7 104.7 1076.7 105.9C1076.8 107.1 1078.6 108.7 1078.5 110.1C1078.5 111.4 1076.6 112.4 1076.5 113.8C1076.4 115.1 1078.1 116.9 1078.2 118.1C1078.2 119.3 1076.8 120.2 1076.8 121C1076.7 121.9 1077.8 122.8 1078 123.2" fill="none" stroke="#D60000" stroke-width="2.8" stroke-linecap="round" stroke-linejoin="round"/>
<path d="M1076.6 99.2C1076.8 99.8 1078.2 101.7 1078.3 102.8C1078.3 103.9 1076.7 104.7 1076.7 105.9C1076.8 107.1 1078.6 108.7 1078.5 110.1C1078.5 111.4 1076.6 112.4 1076.5 113.8C1076.4 115.1 1078.1 116.9 1078.2 118.1C1078.2 119.3 1076.8 120.2 1076.8 121C1076.7 121.9 1077.8 122.8 1078 123.2" fill="none" stroke="#B2B2B2" stroke-width="1.7" stroke-linecap="round" stroke-linejoin="round"/>
<ellipse cx="1076.5" cy="144.7" rx="0.9" ry="1.3" fill="#4F6FD0"/>
<path d="M1132.7 129.2L1132.7 157.5L1136.2 162L1136.2 197.2" fill="none" stroke="#27D600" stroke-width="8.2" stroke-linecap="round" stroke-linejoin="round"/>
<path d="M1133.2 157.2C1133.4 157.6 1133.9 158.7 1134.4 159.4C1134.9 160.1 1135.9 161.2 1136.2 161.6" fill="none" stroke="#27D600" stroke-width="7.8" stroke-linecap="round" stroke-linejoin="round"/>
<path d="M1134.9 181.5C1135.2 182.1 1136.5 183.5 1136.5 184.8C1136.6 186.2 1135 188 1135.1 189.5C1135.1 191 1136.6 192.7 1136.7 193.8C1136.7 194.9 1135.5 195.6 1135.3 196" fill="none" stroke="#27D600" stroke-width="7.8" stroke-linecap="round" stroke-linejoin="round"/>
<path d="M1132.7 129.2L1132.7 157.5L1136.2 162L1136.2 197.2" fill="none" stroke="#75D600" stroke-width="7.3" stroke-linecap="round" stroke-linejoin="round"/>
<path d="M1133.2 157.2C1133.4 157.6 1133.9 158.7 1134.4 159.4C1134.9 160.1 1135.9 161.2 1136.2 161.6" fill="none" stroke="#75D600" stroke-width="6.8" stroke-linecap="round" stroke-linejoin="round"/>
<path d="M1134.9 181.5C1135.2 182.1 1136.5 183.5 1136.5 184.8C1136.6 186.2 1135 188 1135.1 189.5C1135.1 191 1136.6 192.7 1136.7 193.8C1136.7 194.9 1135.5 195.6 1135.3 196" fill="none" stroke="#75D600" stroke-width="6.8" stroke-linecap="round" stroke-linejoin="round"/>
<path d="M1132.7 129.2L1132.7 157.5L1136.2 162L1136.2 197.2" fill="none" stroke="#C3D600" stroke-width="6.5" stroke-linecap="round" stroke-linejoin="round"/>
<path d="M1133.2 157.2C1133.4 157.6 1133.9 158.7 1134.4 159.4C1134.9 160.1 1135.9 161.2 1136.2 161.6" fill="none" stroke="#C3D600" stroke-width="6" stroke-linecap="round" stroke-linejoin="round"/>
<path d="M1134.9 181.5C1135.2 182.1 1136.5 183.5 1136.5 184.8C1136.6 186.2 1135 188 1135.1 189.5C1135.1 191 1136.6 192.7 1136.7 193.8C1136.7 194.9 1135.5 195.6 1135.3 196" fill="none" stroke="#C3D600" stroke-width="6" stroke-linecap="round" stroke-linejoin="round"/>
<path d="M1132.7 129.2L1132.7 157.5L1136.2 162L1136.2 197.2" fill="none" stroke="#D69B00" stroke-width="5.5" stroke-linecap="round" stroke-linejoin="round"/>
<path d="M1133.2 157.2C1133.4 157.6 1133.9 158.7 1134.4 159.4C1134.9 160.1 1135.9 161.2 1136.2 161.6" fill="none" stroke="#D69B00" stroke-width="5" stroke-linecap="round" stroke-linejoin="round"/>
<path d="M1134.9 181.5C1135.2 182.1 1136.5 183.5 1136.5 184.8C1136.6 186.2 1135 188 1135.1 189.5C1135.1 191 1136.6 192.7 1136.7 193.8C1136.7 194.9 1135.5 195.6 1135.3 196" fill="none" stroke="#D69B00" stroke-width="5" stroke-linecap="round" stroke-linejoin="round"/>
<path d="M1132.7 129.2L1132.7 157.5L1136.2 162L1136.2 197.2" fill="none" stroke="#D64E00" stroke-width="4.5" stroke-linecap="round" stroke-linejoin="round"/>
<path d="M1133.2 157.2C1133.4 157.6 1133.9 158.7 1134.4 159.4C1134.9 160.1 1135.9 161.2 1136.2 161.6" fill="none" stroke="#D64E00" stroke-width="4" stroke-linecap="round" stroke-linejoin="round"/>
<path d="M1134.9 181.5C1135.2 182.1 1136.5 183.5 1136.5 184.8C1136.6 186.2 1135 188 1135.1 189.5C1135.1 191 1136.6 192.7 1136.7 193.8C1136.7 194.9 1135.5 195.6 1135.3 196" fill="none" stroke="#D64E00" stroke-width="4" stroke-linecap="round" stroke-linejoin="round"/>
<path d="M1132.7 129.2L1132.7 157.5L1136.2 162L1136.2 197.2" fill="none" stroke="#D60000" stroke-width="3" stroke-linecap="round" stroke-linejoin="round"/>
<path d="M1133.2 157.2C1133.4 157.6 1133.9 158.7 1134.4 159.4C1134.9 160.1 1135.9 161.2 1136.2 161.6" fill="none" stroke="#D60000" stroke-width="2.5" stroke-linecap="round" stroke-linejoin="round"/>
<path d="M1134.9 181.5C1135.2 182.1 1136.5 183.5 1136.5 184.8C1136.6 186.2 1135 188 1135.1 189.5C1135.1 191 1136.6 192.7 1136.7 193.8C1136.7 194.9 1135.5 195.6 1135.3 196" fill="none" stroke="#D60000" stroke-width="2.5" stroke-linecap="round" stroke-linejoin="round"/>
<path d="M1133.2 157.2C1133.4 157.6 1133.9 158.7 1134.4 159.4C1134.9 160.1 1135.9 161.2 1136.2 161.6" fill="none" stroke="#B2B2B2" stroke-width="1.6" stroke-linecap="round" stroke-linejoin="round"/>
<path d="M1134.9 181.5C1135.2 182.1 1136.5 183.5 1136.5 184.8C1136.6 186.2 1135 188 1135.1 189.5C1135.1 191 1136.6 192.7 1136.7 193.8C1136.7 194.9 1135.5 195.6 1135.3 196" fill="none" stroke="#B2B2B2" stroke-width="1.6" stroke-linecap="round" stroke-linejoin="round"/>
<ellipse cx="1132.7" cy="144.7" rx="0.9" ry="1.3" fill="#4F6FD0"/>
<path d="M1048.2 394L1048.2 459" fill="none" stroke="#27D600" stroke-width="7.8" stroke-linecap="round" stroke-linejoin="round"/>
<path d="M1048.2 394L1048.2 459" fill="none" stroke="#75D600" stroke-width="6.8" stroke-linecap="round" stroke-linejoin="round"/>
<path d="M1048.2 394L1048.2 459" fill="none" stroke="#C3D600" stroke-width="5.9" stroke-linecap="round" stroke-linejoin="round"/>
<path d="M1048.2 394L1048.2 459" fill="none" stroke="#D69B00" stroke-width="4.7" stroke-linecap="round" stroke-linejoin="round"/>
<path d="M1048.2 394L1048.2 459" fill="none" stroke="#D64E00" stroke-width="2.9" stroke-linecap="round" stroke-linejoin="round"/>
<path d="M1047.2 420L1047.2 458" fill="none" stroke="#D69B00" stroke-width="1.6" stroke-linecap="round" stroke-linejoin="round"/>
<ellipse cx="1048.2" cy="426" rx="0.9" ry="1.3" fill="#4F6FD0"/>
<path d="M1104.3 380.2L1106.1 384.1L1104.3 388.3L1106.4 391.7L1104.2 395.8L1106 399.6L1104.8 404.2L1104.5 405.7L1104.5 446.6" fill="none" stroke="#27D600" stroke-width="7.8" stroke-linecap="round" stroke-linejoin="round"/>
<path d="M1104.3 380.2C1104.6 380.9 1106.1 382.8 1106.1 384.1C1106.1 385.5 1104.2 387.1 1104.3 388.3C1104.3 389.6 1106.4 390.4 1106.4 391.7C1106.4 393 1104.2 394.5 1104.2 395.8C1104.1 397.2 1105.9 398.2 1106 399.6C1106.1 401 1105 403.4 1104.8 404.2" fill="none" stroke="#27D600" stroke-width="7.7" stroke-linecap="round" stroke-linejoin="round"/>
<path d="M1104.3 380.2L1106.1 384.1L1104.3 388.3L1106.4 391.7L1104.2 395.8L1106 399.6L1104.8 404.2L1104.5 405.7L1104.5 446.6" fill="none" stroke="#75D600" stroke-width="6.8" stroke-linecap="round" stroke-linejoin="round"/>
<path d="M1104.3 380.2C1104.6 380.9 1106.1 382.8 1106.1 384.1C1106.1 385.5 1104.2 387.1 1104.3 388.3C1104.3 389.6 1106.4 390.4 1106.4 391.7C1106.4 393 1104.2 394.5 1104.2 395.8C1104.1 397.2 1105.9 398.2 1106 399.6C1106.1 401 1105 403.4 1104.8 404.2" fill="none" stroke="#75D600" stroke-width="6.7" stroke-linecap="round" stroke-linejoin="round"/>
<path d="M1104.3 380.2L1106.1 384.1L1104.3 388.3L1106.4 391.7L1104.2 395.8L1106 399.6L1104.8 404.2L1104.5 405.7L1104.5 446.6" fill="none" stroke="#C3D600" stroke-width="5.9" stroke-linecap="round" stroke-linejoin="round"/>
<path d="M1104.3 380.2C1104.6 380.9 1106.1 382.8 1106.1 384.1C1106.1 385.5 1104.2 387.1 1104.3 388.3C1104.3 389.6 1106.4 390.4 1106.4 391.7C1106.4 393 1104.2 394.5 1104.2 395.8C1104.1 397.2 1105.9 398.2 1106 399.6C1106.1 401 1105 403.4 1104.8 404.2" fill="none" stroke="#C3D600" stroke-width="5.8" stroke-linecap="round" stroke-linejoin="round"/>
<path d="M1104.3 380.2L1106.1 384.1L1104.3 388.3L1106.4 391.7L1104.2 395.8L1106 399.6L1104.8 404.2L1104.5 405.7L1104.5 446.6" fill="none" stroke="#D69B00" stroke-width="4.7" stroke-linecap="round" stroke-linejoin="round"/>
<path d="M1104.3 380.2C1104.6 380.9 1106.1 382.8 1106.1 384.1C1106.1 385.5 1104.2 387.1 1104.3 388.3C1104.3 389.6 1106.4 390.4 1106.4 391.7C1106.4 393 1104.2 394.5 1104.2 395.8C1104.1 397.2 1105.9 398.2 1106 399.6C1106.1 401 1105 403.4 1104.8 404.2" fill="none" stroke="#D69B00" stroke-width="4.5" stroke-linecap="round" stroke-linejoin="round"/>
<path d="M1104.3 380.2L1106.1 384.1L1104.3 388.3L1106.4 391.7L1104.2 395.8L1106 399.6L1104.8 404.2L1104.5 405.7L1104.5 446.6" fill="none" stroke="#D64E00" stroke-width="2.9" stroke-linecap="round" stroke-linejoin="round"/>
<path d="M1104.3 380.2C1104.6 380.9 1106.1 382.8 1106.1 384.1C1106.1 385.5 1104.2 387.1 1104.3 388.3C1104.3 389.6 1106.4 390.4 1106.4 391.7C1106.4 393 1104.2 394.5 1104.2 395.8C1104.1 397.2 1105.9 398.2 1106 399.6C1106.1 401 1105 403.4 1104.8 404.2" fill="none" stroke="#D60000" stroke-width="2.8" stroke-linecap="round" stroke-linejoin="round"/>
<path d="M1104.3 380.2C1104.6 380.9 1106.1 382.8 1106.1 384.1C1106.1 385.5 1104.2 387.1 1104.3 388.3C1104.3 389.6 1106.4 390.4 1106.4 391.7C1106.4 393 1104.2 394.5 1104.2 395.8C1104.1 397.2 1105.9 398.2 1106 399.6C1106.1 401 1105 403.4 1104.8 404.2" fill="none" stroke="#B2B2B2" stroke-width="1.7" stroke-linecap="round" stroke-linejoin="round"/>
<ellipse cx="1104.5" cy="426" rx="0.9" ry="1.3" fill="#4F6FD0"/>
<path d="M1160.6 414L1160.6 438.5L1163.2 442.8L1163.2 480.2" fill="none" stroke="#27D600" stroke-width="7.8" stroke-linecap="round" stroke-linejoin="round"/>
<path d="M1160.8 438.2C1161 438.6 1161.6 439.7 1162 440.4C1162.4 441.1 1163 442.1 1163.2 442.4" fill="none" stroke="#27D600" stroke-width="7.4" stroke-linecap="round" stroke-linejoin="round"/>
<path d="M1162.1 464.5C1162.4 465.1 1163.8 466.8 1163.8 468C1163.7 469.2 1162 470.4 1162 471.6C1162.1 472.8 1163.7 473.9 1163.8 475.2C1163.9 476.6 1162.7 478.8 1162.5 479.5" fill="none" stroke="#27D600" stroke-width="7.4" stroke-linecap="round" stroke-linejoin="round"/>
<path d="M1160.6 414L1160.6 438.5L1163.2 442.8L1163.2 480.2" fill="none" stroke="#75D600" stroke-width="6.8" stroke-linecap="round" stroke-linejoin="round"/>
<path d="M1160.8 438.2C1161 438.6 1161.6 439.7 1162 440.4C1162.4 441.1 1163 442.1 1163.2 442.4" fill="none" stroke="#75D600" stroke-width="6.3" stroke-linecap="round" stroke-linejoin="round"/>
<path d="M1162.1 464.5C1162.4 465.1 1163.8 466.8 1163.8 468C1163.7 469.2 1162 470.4 1162 471.6C1162.1 472.8 1163.7 473.9 1163.8 475.2C1163.9 476.6 1162.7 478.8 1162.5 479.5" fill="none" stroke="#75D600" stroke-width="6.3" stroke-linecap="round" stroke-linejoin="round"/>
<path d="M1160.6 414L1160.6 438.5L1163.2 442.8L1163.2 480.2" fill="none" stroke="#C3D600" stroke-width="5.9" stroke-linecap="round" stroke-linejoin="round"/>
<path d="M1160.8 438.2C1161 438.6 1161.6 439.7 1162 440.4C1162.4 441.1 1163 442.1 1163.2 442.4" fill="none" stroke="#C3D600" stroke-width="5.5" stroke-linecap="round" stroke-linejoin="round"/>
<path d="M1162.1 464.5C1162.4 465.1 1163.8 466.8 1163.8 468C1163.7 469.2 1162 470.4 1162 471.6C1162.1 472.8 1163.7 473.9 1163.8 475.2C1163.9 476.6 1162.7 478.8 1162.5 479.5" fill="none" stroke="#C3D600" stroke-width="5.5" stroke-linecap="round" stroke-linejoin="round"/>
<path d="M1160.6 414L1160.6 438.5L1163.2 442.8L1163.2 480.2" fill="none" stroke="#D69B00" stroke-width="4.7" stroke-linecap="round" stroke-linejoin="round"/>
<path d="M1160.8 438.2C1161 438.6 1161.6 439.7 1162 440.4C1162.4 441.1 1163 442.1 1163.2 442.4" fill="none" stroke="#D69B00" stroke-width="4.2" stroke-linecap="round" stroke-linejoin="round"/>
<path d="M1162.1 464.5C1162.4 465.1 1163.8 466.8 1163.8 468C1163.7 469.2 1162 470.4 1162 471.6C1162.1 472.8 1163.7 473.9 1163.8 475.2C1163.9 476.6 1162.7 478.8 1162.5 479.5" fill="none" stroke="#D69B00" stroke-width="4.2" stroke-linecap="round" stroke-linejoin="round"/>
<path d="M1160.6 414L1160.6 438.5L1163.2 442.8L1163.2 480.2" fill="none" stroke="#D64E00" stroke-width="2.9" stroke-linecap="round" stroke-linejoin="round"/>
<path d="M1160.8 438.2C1161 438.6 1161.6 439.7 1162 440.4C1162.4 441.1 1163 442.1 1163.2 442.4" fill="none" stroke="#D60000" stroke-width="2.5" stroke-linecap="round" stroke-linejoin="round"/>
<path d="M1162.1 464.5C1162.4 465.1 1163.8 466.8 1163.8 468C1163.7 469.2 1162 470.4 1162 471.6C1162.1 472.8 1163.7 473.9 1163.8 475.2C1163.9 476.6 1162.7 478.8 1162.5 479.5" fill="none" stroke="#D60000" stroke-width="2.5" stroke-linecap="round" stroke-linejoin="round"/>
<path d="M1160.8 438.2C1161 438.6 1161.6 439.7 1162 440.4C1162.4 441.1 1163 442.1 1163.2 442.4" fill="none" stroke="#B2B2B2" stroke-width="1.6" stroke-linecap="round" stroke-linejoin="round"/>
<path d="M1162.1 464.5C1162.4 465.1 1163.8 466.8 1163.8 468C1163.7 469.2 1162 470.4 1162 471.6C1162.1 472.8 1163.7 473.9 1163.8 475.2C1163.9 476.6 1162.7 478.8 1162.5 479.5" fill="none" stroke="#B2B2B2" stroke-width="1.6" stroke-linecap="round" stroke-linejoin="round"/>
<ellipse cx="1160.6" cy="426" rx="0.9" ry="1.3" fill="#4F6FD0"/>
</g></g>
<g clip-path="url(#cc)"><g filter="url(#soft)">
<rect x="1415.1" y="-1.9" width="573.1" height="574.5" fill="#0000D6"/>
<rect x="1421.1" y="4.1" width="561.1" height="562.5" fill="#0000D6"/>
<path d="M1424.2 16.8C1424.2 11.9 1428.2 7.8 1433.2 7.8L1968.8 7.8C1974.3 7.8 1978.8 12.3 1978.8 17.8L1978.4 549.7C1978.4 556.9 1972.6 562.7 1965.4 562.7L1433.2 562.7C1428.2 562.7 1424.2 558.7 1424.2 553.7Z" fill="#004ED6"/>
<path d="M1435 31.4C1434.9 24.2 1440.7 18.4 1447.9 18.4L1953.6 19C1961.9 19 1968.5 25.7 1968.5 34L1964.1 533C1964.1 541.8 1956.8 549 1948 549L1452 549.6C1444.3 549.6 1438 543.3 1437.9 535.6Z" fill="#009BD6"/>
<path d="M1650 14C1604.5 14.7 1664.5 17.1 1672 18.1C1679.5 19.1 1687.2 19.1 1694.7 19.8C1702.2 20.6 1710.5 21.6 1717.3 22.6C1724.1 23.6 1729.3 24.4 1735.3 25.7C1741.3 27 1748.9 28.8 1753.4 30.2C1757.9 31.6 1760 32.7 1762.4 34.3C1764.8 35.9 1766.8 38.1 1767.8 39.7C1768.8 41.4 1768.5 42.1 1768.2 44.2C1767.9 46.3 1766.8 48.6 1766 52.3C1765.2 56 1763.4 60.9 1763.2 66.5C1763 72.1 1762.4 80.1 1765 86C1767.6 91.9 1774.7 98 1778.6 101.7C1782.5 105.4 1784.4 107.9 1788.3 108C1792.2 108.1 1797.1 106.2 1802 102.5C1806.9 98.8 1814.6 92 1817.7 86C1820.8 80 1820.7 71.5 1820.8 66.5C1820.9 61.5 1819.3 59.6 1818.4 56C1817.5 52.4 1815.5 48.1 1815.3 45.1C1815.1 42.1 1815.2 40.1 1817 37.9C1818.8 35.6 1821.5 33.6 1826 31.6C1830.5 29.7 1838 27.7 1844 26.2C1850 24.7 1856.2 23.5 1862.2 22.6C1868.2 21.7 1874.2 21.2 1880.2 20.6C1886.2 20.1 1889.2 19.6 1898.3 19.3C1907.4 19.1 1927.2 20 1935 19.1C1942.8 18.2 1992.5 14.8 1945 14C1897.5 13.2 1695.5 13.3 1650 14Z" fill="#004ED6"/>
<path d="M1700 7L1727 7.8L1729 9L1767 9.1L1769 9.9L1811 9.7L1813.5 8.7L1855 8.6L1857 7.7L1880 7Z" fill="#0000D6"/>
<ellipse cx="1789.8" cy="89.6" rx="14" ry="13.4" fill="#0000D6"/>
<path d="M1788.3 108.3C1781.6 108.3 1779 105.6 1773.5 103.4C1768 101.2 1761.5 98.2 1755.5 95.2C1749.5 92.2 1744.2 88.7 1737.4 85.1C1730.6 81.5 1723.2 77.4 1714.9 73.8C1706.6 70.2 1696.8 66.5 1687.8 63.7C1678.8 60.9 1669.4 58.3 1660.8 56.9C1652.2 55.5 1643.9 54.9 1636 55.3C1628.1 55.7 1620.2 56.9 1613.4 59.2C1606.6 61.5 1601 64.6 1595.4 69.3C1589.8 74 1584.5 80.2 1579.6 87.4C1574.7 94.6 1569.8 103.6 1566 112.2C1562.2 120.8 1559.2 130.2 1557 139.2C1554.8 148.2 1553.7 156.9 1552.5 166.3C1551.3 175.7 1550.6 183.2 1549.8 195.5C1549 207.8 1546.8 226.1 1547.8 240C1548.8 253.9 1552.3 266.3 1555.6 279C1558.9 291.7 1564.1 306.8 1567.4 316C1570.8 325.2 1572.2 327.4 1575.7 334.4C1579.2 341.4 1584.1 350 1588.5 358C1592.9 366 1598 374.8 1602.2 382.5C1606.5 390.2 1610.4 397.6 1614 404C1617.6 410.4 1621 413.4 1623.8 421C1626.6 428.6 1628.6 441.5 1631 449.9C1633.4 458.3 1633.5 465.1 1638.3 471.5C1643.1 477.9 1650.8 484.2 1660 488.4C1669.2 492.6 1682.4 495.6 1693.6 496.5C1704.8 497.4 1716.9 496.2 1727.3 494.1C1737.7 492 1748.6 488.2 1756.2 483.6C1763.8 479 1769.2 473.9 1773 466.7C1776.8 459.5 1777.3 447.1 1778.8 440.2C1780.3 433.2 1780.4 432.3 1782 425C1783.6 417.7 1787.2 405.1 1788.3 396.4C1789.3 387.7 1789.9 381.5 1788.3 373C1786.7 364.5 1783.5 354.1 1778.6 345.6C1773.7 337.1 1766.2 330.5 1759 322C1751.8 313.5 1741.4 303.9 1735.5 294.8C1729.6 285.7 1726.1 276.5 1723.8 267.4C1721.5 258.3 1721.9 247.1 1721.9 240C1721.9 232.9 1722.2 230.3 1723.8 225C1725.4 219.7 1727.7 212.9 1731.6 208C1735.5 203.1 1740.8 199.5 1747.3 195.5C1753.8 191.5 1763.8 186.3 1770.7 183.8C1777.7 181.3 1783.1 180.8 1789 180.7C1794.9 180.6 1799.3 181.2 1806 183C1812.7 184.8 1820.3 188.2 1829.4 191.6C1838.5 195 1850.3 201.4 1860.7 203.4C1871.1 205.4 1882.2 205.4 1892 203.4C1901.8 201.4 1912.2 197.5 1919.4 191.6C1926.6 185.7 1931.8 177.3 1935 168.2C1938.2 159.1 1939.6 146 1938.9 136.9C1938.2 127.8 1936.2 119.9 1931 113.4C1925.8 106.9 1916.7 101.6 1907.6 97.8C1898.5 94 1886.7 91.3 1876.3 90.7C1865.9 90.1 1855.4 91.8 1845 93.9C1834.6 96.1 1823.2 101.2 1813.8 103.6C1804.3 106 1795 108.3 1788.3 108.3Z" fill="#00D6C3"/>
<path d="M1789 180.7C1784.8 180.7 1780.4 182.4 1777 185C1773.6 187.6 1770.2 192.2 1768.5 196C1766.8 199.8 1766.4 204.2 1766.8 208C1767.2 211.8 1768.8 216 1771 219C1773.2 222 1776.8 224.4 1780 226C1783.2 227.6 1786.5 228.3 1790 228.3C1793.5 228.3 1797.7 227.7 1801 226C1804.3 224.3 1807.9 221.2 1810 218C1812.1 214.8 1813.6 210.8 1813.8 207C1814 203.2 1813 198.7 1811 195C1809 191.3 1805.7 187.4 1802 185C1798.3 182.6 1793.2 180.7 1789 180.7Z" fill="#004ED6"/>
<ellipse cx="1789.4" cy="195.6" rx="10.8" ry="10.6" fill="#0000D6"/>
<path d="M1788 108.6C1781.5 108.2 1780.5 109.1 1775 109.2C1769.5 109.3 1761.2 109.3 1755 109.3C1748.8 109.3 1742.8 108.5 1738 109.4C1733.2 110.3 1729.5 113.4 1726 114.8C1722.5 116.2 1719.9 116.3 1717 118C1714.1 119.7 1710.6 122.8 1708.5 125C1706.4 127.2 1705.8 127.7 1704.6 131C1703.4 134.3 1702 140.1 1701.6 144.6C1701.2 149.1 1701.1 154.3 1702.2 157.8C1703.3 161.3 1705.5 163.3 1708 165.6C1710.5 167.9 1714 170.1 1717 171.6C1720 173.1 1722.5 173.1 1726 174.6C1729.5 176.1 1732.3 179.6 1738 180.6C1743.7 181.6 1751.5 180.2 1760 180.3C1768.5 180.4 1781.3 181.3 1789 180.9C1796.7 180.5 1799.3 179.2 1806 178C1812.7 176.8 1822.6 176.3 1829.4 174C1836.2 171.7 1842.8 168.5 1847 164.3C1851.2 160.1 1853.8 153.8 1854.8 148.6C1855.8 143.4 1855.8 138.2 1852.9 133C1850 127.8 1843.7 120.9 1837.2 117.3C1830.7 113.7 1822 112.8 1813.8 111.3C1805.6 109.8 1794.5 108.9 1788 108.6Z" fill="#00D675"/>
<path d="M1788.2 108.8L1778.8 109.5L1771 111.5L1764.1 114.9L1758.2 119.3L1753.5 124.8L1750 131L1747.9 137.8L1747.2 144.8L1747.9 151.8L1750.1 158.6L1753.6 164.8L1758.3 170.3L1764.3 174.7L1771.3 178.1L1779.4 180.1L1789 180.8L1800.9 180.1L1810.8 178.1L1819.6 174.7L1827 170.3L1833 164.8L1837.4 158.6L1840.1 151.8L1841 144.8L1840.1 137.8L1837.4 131L1833 124.8L1826.9 119.3L1819.4 114.9L1810.5 111.5L1800.4 109.5Z" fill="#00D627"/>
<path d="M1788.2 109.4L1782 110.1L1776.8 112.1L1772.2 115.4L1768.3 119.8L1765.2 125.1L1762.9 131.3L1761.5 137.9L1761 144.8L1761.5 151.7L1762.9 158.3L1765.2 164.5L1768.4 169.8L1772.4 174.2L1777.1 177.5L1782.5 179.5L1789 180.2L1797.3 179.5L1804.3 177.5L1810.4 174.2L1815.7 169.8L1819.9 164.5L1823 158.3L1824.9 151.7L1825.5 144.8L1824.9 137.9L1823 131.3L1819.8 125.1L1815.6 119.8L1810.2 115.4L1804 112.1L1796.8 110.1Z" fill="#27D600"/>
<path d="M1790 111.5C1791.3 101.2 1795.5 114.6 1798 117C1800.5 119.4 1803.1 122.7 1805 126C1806.9 129.3 1808.6 133.7 1809.5 137C1810.4 140.3 1810.6 142.8 1810.5 146C1810.4 149.2 1810.2 152.5 1809 156C1807.8 159.5 1805.5 164 1803.5 167C1801.5 170 1799.2 172.1 1797 174C1794.8 175.9 1791.2 188.9 1790 178.5C1788.8 168.1 1788.7 121.8 1790 111.5Z" fill="#75D600"/>
<path d="M1786 112C1785 101.8 1781.8 114.8 1780 116.5C1778.2 118.2 1776.2 120.2 1775 122C1773.8 123.8 1772.9 125.2 1772.8 127C1772.7 128.8 1773.5 131.2 1774.5 133C1775.5 134.8 1777.8 136.1 1779 138C1780.2 139.9 1782.2 142.3 1782 144.5C1781.8 146.7 1779.3 148.9 1778 151C1776.7 153.1 1774.8 155.2 1774 157C1773.2 158.8 1773 160.2 1773.2 162C1773.5 163.8 1774.3 166 1775.5 168C1776.7 170 1778.8 172.3 1780.5 174C1782.2 175.7 1785.1 188.3 1786 178C1786.9 167.7 1787 122.2 1786 112Z" fill="#75D600"/>
<path d="M1791.5 120.5C1792.2 118.8 1795 120.6 1796 121.5C1797 122.4 1797.7 124.4 1797.8 126C1797.9 127.6 1797.5 130 1796.4 131C1795.4 132 1792.3 133.8 1791.5 132C1790.7 130.2 1790.8 122.2 1791.5 120.5Z" fill="#C3D600"/>
<path d="M1791 158C1791.4 156.9 1792.9 158.3 1793.4 159C1793.9 159.7 1794.1 160.9 1794 162C1793.9 163.1 1793.5 164.9 1793 165.5C1792.5 166.1 1791.3 167.1 1791 165.8C1790.7 164.6 1790.6 159.1 1791 158Z" fill="#C3D600"/>
<path d="M1618.3 106.6L1618.3 183.6" fill="none" stroke="#27D600" stroke-width="7" stroke-linecap="round" stroke-linejoin="round"/>
<path d="M1618.3 106.6L1618.3 183.6" fill="none" stroke="#75D600" stroke-width="6.1" stroke-linecap="round" stroke-linejoin="round"/>
<path d="M1618.3 106.6L1618.3 183.6" fill="none" stroke="#C3D600" stroke-width="5" stroke-linecap="round" stroke-linejoin="round"/>
<path d="M1618.3 106.6L1618.3 183.6" fill="none" stroke="#D69B00" stroke-width="3" stroke-linecap="round" stroke-linejoin="round"/>
<ellipse cx="1618.3" cy="144.7" rx="0.9" ry="1.3" fill="#4F6FD0"/>
<path d="M1675.4 107.6L1677 110.9L1675.4 114.2L1676.9 118L1675.3 121.7L1677.2 126.1L1675.8 128.6L1674.7 130.1L1674.7 161.3L1675.7 162.8L1677 167.1L1675.7 171.5L1677.3 175.1L1675.7 178.6L1676.8 182.8" fill="none" stroke="#27D600" stroke-width="7.8" stroke-linecap="round" stroke-linejoin="round"/>
<path d="M1675.4 107.6C1675.7 108.1 1677 109.8 1677 110.9C1677 112 1675.4 113 1675.4 114.2C1675.4 115.4 1676.9 116.7 1676.9 118C1676.9 119.2 1675.3 120.3 1675.3 121.7C1675.3 123 1677.1 125 1677.2 126.1C1677.2 127.3 1676 128.2 1675.8 128.6" fill="none" stroke="#27D600" stroke-width="8.8" stroke-linecap="round" stroke-linejoin="round"/>
<path d="M1675.7 162.8C1675.9 163.5 1677.1 165.6 1677 167.1C1677 168.5 1675.6 170.1 1675.7 171.5C1675.7 172.8 1677.3 173.9 1677.3 175.1C1677.3 176.3 1675.8 177.4 1675.7 178.6C1675.6 179.9 1676.6 182.1 1676.8 182.8" fill="none" stroke="#27D600" stroke-width="8.8" stroke-linecap="round" stroke-linejoin="round"/>
<path d="M1675.4 107.6L1677 110.9L1675.4 114.2L1676.9 118L1675.3 121.7L1677.2 126.1L1675.8 128.6L1674.7 130.1L1674.7 161.3L1675.7 162.8L1677 167.1L1675.7 171.5L1677.3 175.1L1675.7 178.6L1676.8 182.8" fill="none" stroke="#75D600" stroke-width="6.9" stroke-linecap="round" stroke-linejoin="round"/>
<path d="M1675.4 107.6C1675.7 108.1 1677 109.8 1677 110.9C1677 112 1675.4 113 1675.4 114.2C1675.4 115.4 1676.9 116.7 1676.9 118C1676.9 119.2 1675.3 120.3 1675.3 121.7C1675.3 123 1677.1 125 1677.2 126.1C1677.2 127.3 1676 128.2 1675.8 128.6" fill="none" stroke="#75D600" stroke-width="7.9" stroke-linecap="round" stroke-linejoin="round"/>
<path d="M1675.7 162.8C1675.9 163.5 1677.1 165.6 1677 167.1C1677 168.5 1675.6 170.1 1675.7 171.5C1675.7 172.8 1677.3 173.9 1677.3 175.1C1677.3 176.3 1675.8 177.4 1675.7 178.6C1675.6 179.9 1676.6 182.1 1676.8 182.8" fill="none" stroke="#75D600" stroke-width="7.9" stroke-linecap="round" stroke-linejoin="round"/>
<path d="M1675.4 107.6L1677 110.9L1675.4 114.2L1676.9 118L1675.3 121.7L1677.2 126.1L1675.8 128.6L1674.7 130.1L1674.7 161.3L1675.7 162.8L1677 167.1L1675.7 171.5L1677.3 175.1L1675.7 178.6L1676.8 182.8" fill="none" stroke="#C3D600" stroke-width="6" stroke-linecap="round" stroke-linejoin="round"/>
<path d="M1675.4 107.6C1675.7 108.1 1677 109.8 1677 110.9C1677 112 1675.4 113 1675.4 114.2C1675.4 115.4 1676.9 116.7 1676.9 118C1676.9 119.2 1675.3 120.3 1675.3 121.7C1675.3 123 1677.1 125 1677.2 126.1C1677.2 127.3 1676 128.2 1675.8 128.6" fill="none" stroke="#C3D600" stroke-width="7.1" stroke-linecap="round" stroke-linejoin="round"/>
<path d="M1675.7 162.8C1675.9 163.5 1677.1 165.6 1677 167.1C1677 168.5 1675.6 170.1 1675.7 171.5C1675.7 172.8 1677.3 173.9 1677.3 175.1C1677.3 176.3 1675.8 177.4 1675.7 178.6C1675.6 179.9 1676.6 182.1 1676.8 182.8" fill="none" stroke="#C3D600" stroke-width="7.1" stroke-linecap="round" stroke-linejoin="round"/>
<path d="M1675.4 107.6L1677 110.9L1675.4 114.2L1676.9 118L1675.3 121.7L1677.2 126.1L1675.8 128.6L1674.7 130.1L1674.7 161.3L1675.7 162.8L1677 167.1L1675.7 171.5L1677.3 175.1L1675.7 178.6L1676.8 182.8" fill="none" stroke="#D69B00" stroke-width="5" stroke-linecap="round" stroke-linejoin="round"/>
<path d="M1675.4 107.6C1675.7 108.1 1677 109.8 1677 110.9C1677 112 1675.4 113 1675.4 114.2C1675.4 115.4 1676.9 116.7 1676.9 118C1676.9 119.2 1675.3 120.3 1675.3 121.7C1675.3 123 1677.1 125 1677.2 126.1C1677.2 127.3 1676 128.2 1675.8 128.6" fill="none" stroke="#D69B00" stroke-width="6.1" stroke-linecap="round" stroke-linejoin="round"/>
<path d="M1675.7 162.8C1675.9 163.5 1677.1 165.6 1677 167.1C1677 168.5 1675.6 170.1 1675.7 171.5C1675.7 172.8 1677.3 173.9 1677.3 175.1C1677.3 176.3 1675.8 177.4 1675.7 178.6C1675.6 179.9 1676.6 182.1 1676.8 182.8" fill="none" stroke="#D69B00" stroke-width="6.1" stroke-linecap="round" stroke-linejoin="round"/>
<path d="M1675.4 107.6L1677 110.9L1675.4 114.2L1676.9 118L1675.3 121.7L1677.2 126.1L1675.8 128.6L1674.7 130.1L1674.7 161.3L1675.7 162.8L1677 167.1L1675.7 171.5L1677.3 175.1L1675.7 178.6L1676.8 182.8" fill="none" stroke="#D64E00" stroke-width="4" stroke-linecap="round" stroke-linejoin="round"/>
<path d="M1675.4 107.6C1675.7 108.1 1677 109.8 1677 110.9C1677 112 1675.4 113 1675.4 114.2C1675.4 115.4 1676.9 116.7 1676.9 118C1676.9 119.2 1675.3 120.3 1675.3 121.7C1675.3 123 1677.1 125 1677.2 126.1C1677.2 127.3 1676 128.2 1675.8 128.6" fill="none" stroke="#D64E00" stroke-width="5" stroke-linecap="round" stroke-linejoin="round"/>
<path d="M1675.7 162.8C1675.9 163.5 1677.1 165.6 1677 167.1C1677 168.5 1675.6 170.1 1675.7 171.5C1675.7 172.8 1677.3 173.9 1677.3 175.1C1677.3 176.3 1675.8 177.4 1675.7 178.6C1675.6 179.9 1676.6 182.1 1676.8 182.8" fill="none" stroke="#D64E00" stroke-width="5" stroke-linecap="round" stroke-linejoin="round"/>
<path d="M1675.4 107.6L1677 110.9L1675.4 114.2L1676.9 118L1675.3 121.7L1677.2 126.1L1675.8 128.6L1674.7 130.1L1674.7 161.3L1675.7 162.8L1677 167.1L1675.7 171.5L1677.3 175.1L1675.7 178.6L1676.8 182.8" fill="none" stroke="#D60000" stroke-width="2.6" stroke-linecap="round" stroke-linejoin="round"/>
<path d="M1675.4 107.6C1675.7 108.1 1677 109.8 1677 110.9C1677 112 1675.4 113 1675.4 114.2C1675.4 115.4 1676.9 116.7 1676.9 118C1676.9 119.2 1675.3 120.3 1675.3 121.7C1675.3 123 1677.1 125 1677.2 126.1C1677.2 127.3 1676 128.2 1675.8 128.6" fill="none" stroke="#D60000" stroke-width="3.6" stroke-linecap="round" stroke-linejoin="round"/>
<path d="M1675.7 162.8C1675.9 163.5 1677.1 165.6 1677 167.1C1677 168.5 1675.6 170.1 1675.7 171.5C1675.7 172.8 1677.3 173.9 1677.3 175.1C1677.3 176.3 1675.8 177.4 1675.7 178.6C1675.6 179.9 1676.6 182.1 1676.8 182.8" fill="none" stroke="#D60000" stroke-width="3.6" stroke-linecap="round" stroke-linejoin="round"/>
<path d="M1675.4 107.6C1675.7 108.1 1677 109.8 1677 110.9C1677 112 1675.4 113 1675.4 114.2C1675.4 115.4 1676.9 116.7 1676.9 118C1676.9 119.2 1675.3 120.3 1675.3 121.7C1675.3 123 1677.1 125 1677.2 126.1C1677.2 127.3 1676 128.2 1675.8 128.6" fill="none" stroke="#B2B2B2" stroke-width="2.5" stroke-linecap="round" stroke-linejoin="round"/>
<path d="M1675.7 162.8C1675.9 163.5 1677.1 165.6 1677 167.1C1677 168.5 1675.6 170.1 1675.7 171.5C1675.7 172.8 1677.3 173.9 1677.3 175.1C1677.3 176.3 1675.8 177.4 1675.7 178.6C1675.6 179.9 1676.6 182.1 1676.8 182.8" fill="none" stroke="#B2B2B2" stroke-width="2.5" stroke-linecap="round" stroke-linejoin="round"/>
<ellipse cx="1674.7" cy="144.7" rx="0.9" ry="1.3" fill="#4F6FD0"/>
<path d="M1731.2 107.8L1733.1 111.6L1731.4 115L1733 119L1731.4 122.3L1733.2 125.2L1731.8 127.8L1730.8 129.3L1730.8 161.1L1731.5 162.6L1733.2 165.6L1731.1 170L1733.4 174L1731.1 177.1L1733.3 181.1L1731.8 183.6" fill="none" stroke="#27D600" stroke-width="8.2" stroke-linecap="round" stroke-linejoin="round"/>
<path d="M1731.2 107.8C1731.5 108.4 1733.1 110.4 1733.1 111.6C1733.2 112.8 1731.5 113.7 1731.4 115C1731.4 116.2 1733 117.8 1733 119C1733 120.3 1731.3 121.3 1731.4 122.3C1731.4 123.3 1733.1 124.3 1733.2 125.2C1733.3 126.1 1732 127.4 1731.8 127.8" fill="none" stroke="#27D600" stroke-width="9.7" stroke-linecap="round" stroke-linejoin="round"/>
<path d="M1731.5 162.6C1731.8 163.1 1733.2 164.4 1733.2 165.6C1733.1 166.8 1731 168.6 1731.1 170C1731.1 171.4 1733.4 172.9 1733.4 174C1733.4 175.2 1731.1 175.9 1731.1 177.1C1731.1 178.2 1733.2 180 1733.3 181.1C1733.4 182.1 1732 183.2 1731.8 183.6" fill="none" stroke="#27D600" stroke-width="9.7" stroke-linecap="round" stroke-linejoin="round"/>
<path d="M1731.2 107.8L1733.1 111.6L1731.4 115L1733 119L1731.4 122.3L1733.2 125.2L1731.8 127.8L1730.8 129.3L1730.8 161.1L1731.5 162.6L1733.2 165.6L1731.1 170L1733.4 174L1731.1 177.1L1733.3 181.1L1731.8 183.6" fill="none" stroke="#75D600" stroke-width="7.2" stroke-linecap="round" stroke-linejoin="round"/>
<path d="M1731.2 107.8C1731.5 108.4 1733.1 110.4 1733.1 111.6C1733.2 112.8 1731.5 113.7 1731.4 115C1731.4 116.2 1733 117.8 1733 119C1733 120.3 1731.3 121.3 1731.4 122.3C1731.4 123.3 1733.1 124.3 1733.2 125.2C1733.3 126.1 1732 127.4 1731.8 127.8" fill="none" stroke="#75D600" stroke-width="8.7" stroke-linecap="round" stroke-linejoin="round"/>
<path d="M1731.5 162.6C1731.8 163.1 1733.2 164.4 1733.2 165.6C1733.1 166.8 1731 168.6 1731.1 170C1731.1 171.4 1733.4 172.9 1733.4 174C1733.4 175.2 1731.1 175.9 1731.1 177.1C1731.1 178.2 1733.2 180 1733.3 181.1C1733.4 182.1 1732 183.2 1731.8 183.6" fill="none" stroke="#75D600" stroke-width="8.7" stroke-linecap="round" stroke-linejoin="round"/>
<path d="M1731.2 107.8L1733.1 111.6L1731.4 115L1733 119L1731.4 122.3L1733.2 125.2L1731.8 127.8L1730.8 129.3L1730.8 161.1L1731.5 162.6L1733.2 165.6L1731.1 170L1733.4 174L1731.1 177.1L1733.3 181.1L1731.8 183.6" fill="none" stroke="#C3D600" stroke-width="6.4" stroke-linecap="round" stroke-linejoin="round"/>
<path d="M1731.2 107.8C1731.5 108.4 1733.1 110.4 1733.1 111.6C1733.2 112.8 1731.5 113.7 1731.4 115C1731.4 116.2 1733 117.8 1733 119C1733 120.3 1731.3 121.3 1731.4 122.3C1731.4 123.3 1733.1 124.3 1733.2 125.2C1733.3 126.1 1732 127.4 1731.8 127.8" fill="none" stroke="#C3D600" stroke-width="7.9" stroke-linecap="round" stroke-linejoin="round"/>
<path d="M1731.5 162.6C1731.8 163.1 1733.2 164.4 1733.2 165.6C1733.1 166.8 1731 168.6 1731.1 170C1731.1 171.4 1733.4 172.9 1733.4 174C1733.4 175.2 1731.1 175.9 1731.1 177.1C1731.1 178.2 1733.2 180 1733.3 181.1C1733.4 182.1 1732 183.2 1731.8 183.6" fill="none" stroke="#C3D600" stroke-width="7.9" stroke-linecap="round" stroke-linejoin="round"/>
<path d="M1731.2 107.8L1733.1 111.6L1731.4 115L1733 119L1731.4 122.3L1733.2 125.2L1731.8 127.8L1730.8 129.3L1730.8 161.1L1731.5 162.6L1733.2 165.6L1731.1 170L1733.4 174L1731.1 177.1L1733.3 181.1L1731.8 183.6" fill="none" stroke="#D69B00" stroke-width="5.6" stroke-linecap="round" stroke-linejoin="round"/>
<path d="M1731.2 107.8C1731.5 108.4 1733.1 110.4 1733.1 111.6C1733.2 112.8 1731.5 113.7 1731.4 115C1731.4 116.2 1733 117.8 1733 119C1733 120.3 1731.3 121.3 1731.4 122.3C1731.4 123.3 1733.1 124.3 1733.2 125.2C1733.3 126.1 1732 127.4 1731.8 127.8" fill="none" stroke="#D69B00" stroke-width="7.1" stroke-linecap="round" stroke-linejoin="round"/>
<path d="M1731.5 162.6C1731.8 163.1 1733.2 164.4 1733.2 165.6C1733.1 166.8 1731 168.6 1731.1 170C1731.1 171.4 1733.4 172.9 1733.4 174C1733.4 175.2 1731.1 175.9 1731.1 177.1C1731.1 178.2 1733.2 180 1733.3 181.1C1733.4 182.1 1732 183.2 1731.8 183.6" fill="none" stroke="#D69B00" stroke-width="7.1" stroke-linecap="round" stroke-linejoin="round"/>
<path d="M1731.2 107.8L1733.1 111.6L1731.4 115L1733 119L1731.4 122.3L1733.2 125.2L1731.8 127.8L1730.8 129.3L1730.8 161.1L1731.5 162.6L1733.2 165.6L1731.1 170L1733.4 174L1731.1 177.1L1733.3 181.1L1731.8 183.6" fill="none" stroke="#D64E00" stroke-width="4.8" stroke-linecap="round" stroke-linejoin="round"/>
<path d="M1731.2 107.8C1731.5 108.4 1733.1 110.4 1733.1 111.6C1733.2 112.8 1731.5 113.7 1731.4 115C1731.4 116.2 1733 117.8 1733 119C1733 120.3 1731.3 121.3 1731.4 122.3C1731.4 123.3 1733.1 124.3 1733.2 125.2C1733.3 126.1 1732 127.4 1731.8 127.8" fill="none" stroke="#D64E00" stroke-width="6.2" stroke-linecap="round" stroke-linejoin="round"/>
<path d="M1731.5 162.6C1731.8 163.1 1733.2 164.4 1733.2 165.6C1733.1 166.8 1731 168.6 1731.1 170C1731.1 171.4 1733.4 172.9 1733.4 174C1733.4 175.2 1731.1 175.9 1731.1 177.1C1731.1 178.2 1733.2 180 1733.3 181.1C1733.4 182.1 1732 183.2 1731.8 183.6" fill="none" stroke="#D64E00" stroke-width="6.2" stroke-linecap="round" stroke-linejoin="round"/>
<path d="M1731.2 107.8L1733.1 111.6L1731.4 115L1733 119L1731.4 122.3L1733.2 125.2L1731.8 127.8L1730.8 129.3L1730.8 161.1L1731.5 162.6L1733.2 165.6L1731.1 170L1733.4 174L1731.1 177.1L1733.3 181.1L1731.8 183.6" fill="none" stroke="#D60000" stroke-width="3.2" stroke-linecap="round" stroke-linejoin="round"/>
<path d="M1731.2 107.8C1731.5 108.4 1733.1 110.4 1733.1 111.6C1733.2 112.8 1731.5 113.7 1731.4 115C1731.4 116.2 1733 117.8 1733 119C1733 120.3 1731.3 121.3 1731.4 122.3C1731.4 123.3 1733.1 124.3 1733.2 125.2C1733.3 126.1 1732 127.4 1731.8 127.8" fill="none" stroke="#D60000" stroke-width="4.7" stroke-linecap="round" stroke-linejoin="round"/>
<path d="M1731.5 162.6C1731.8 163.1 1733.2 164.4 1733.2 165.6C1733.1 166.8 1731 168.6 1731.1 170C1731.1 171.4 1733.4 172.9 1733.4 174C1733.4 175.2 1731.1 175.9 1731.1 177.1C1731.1 178.2 1733.2 180 1733.3 181.1C1733.4 182.1 1732 183.2 1731.8 183.6" fill="none" stroke="#D60000" stroke-width="4.7" stroke-linecap="round" stroke-linejoin="round"/>
<path d="M1731.2 107.8C1731.5 108.4 1733.1 110.4 1733.1 111.6C1733.2 112.8 1731.5 113.7 1731.4 115C1731.4 116.2 1733 117.8 1733 119C1733 120.3 1731.3 121.3 1731.4 122.3C1731.4 123.3 1733.1 124.3 1733.2 125.2C1733.3 126.1 1732 127.4 1731.8 127.8" fill="none" stroke="#B2B2B2" stroke-width="4" stroke-linecap="round" stroke-linejoin="round"/>
<path d="M1731.5 162.6C1731.8 163.1 1733.2 164.4 1733.2 165.6C1733.1 166.8 1731 168.6 1731.1 170C1731.1 171.4 1733.4 172.9 1733.4 174C1733.4 175.2 1731.1 175.9 1731.1 177.1C1731.1 178.2 1733.2 180 1733.3 181.1C1733.4 182.1 1732 183.2 1731.8 183.6" fill="none" stroke="#B2B2B2" stroke-width="4" stroke-linecap="round" stroke-linejoin="round"/>
<ellipse cx="1730.8" cy="144.7" rx="0.9" ry="1.3" fill="#4F6FD0"/>
<path d="M1730.8 126L1730.8 164" fill="none" stroke="#B2B2B2" stroke-width="2.9" stroke-linecap="butt" stroke-linejoin="round"/>
<ellipse cx="1730.8" cy="144.7" rx="0.9" ry="1.3" fill="#4F6FD0"/>
<path d="M1787 113L1787 177.5" fill="none" stroke="#D60000" stroke-width="6.2" stroke-linecap="round" stroke-linejoin="round"/>
<path d="M1786.8 116.5L1789.2 120.8L1787.5 125.5" fill="none" stroke="#D60000" stroke-width="8.2" stroke-linecap="round" stroke-linejoin="round"/>
<path d="M1787.3 164.5L1789 169L1787.4 174.5" fill="none" stroke="#D60000" stroke-width="8" stroke-linecap="round" stroke-linejoin="round"/>
<path d="M1787.4 108.8L1787.4 179.5" fill="none" stroke="#B2B2B2" stroke-width="2.6" stroke-linecap="butt" stroke-linejoin="round"/>
<path d="M1787 112L1787 178" fill="none" stroke="#B2B2B2" stroke-width="5.2" stroke-linecap="round" stroke-linejoin="round"/>
<path d="M1786.8 116.5L1789.2 120.8L1787.5 125.5" fill="none" stroke="#B2B2B2" stroke-width="7.2" stroke-linecap="round" stroke-linejoin="round"/>
<path d="M1787.3 164.5L1789 169L1787.4 174.5" fill="none" stroke="#B2B2B2" stroke-width="7" stroke-linecap="round" stroke-linejoin="round"/>
<ellipse cx="1787" cy="144.7" rx="0.9" ry="1.3" fill="#4F6FD0"/>
<ellipse cx="1787" cy="134.5" rx="0.9" ry="0.9" fill="#E6E6E6"/>
<ellipse cx="1787" cy="156.5" rx="0.9" ry="0.9" fill="#E6E6E6"/>
<path d="M1646.5 387.6L1646.5 464.4" fill="none" stroke="#27D600" stroke-width="6.8" stroke-linecap="round" stroke-linejoin="round"/>
<path d="M1646.5 387.6L1646.5 464.4" fill="none" stroke="#75D600" stroke-width="5.8" stroke-linecap="round" stroke-linejoin="round"/>
<path d="M1646.5 387.6L1646.5 464.4" fill="none" stroke="#C3D600" stroke-width="4.8" stroke-linecap="round" stroke-linejoin="round"/>
<path d="M1646.5 387.6L1646.5 464.4" fill="none" stroke="#D69B00" stroke-width="2.8" stroke-linecap="round" stroke-linejoin="round"/>
<path d="M1645.3 389L1645.3 463" fill="none" stroke="#D6B400" stroke-width="1" stroke-linecap="round" stroke-linejoin="round"/>
<ellipse cx="1646.5" cy="426" rx="0.9" ry="1.3" fill="#4F6FD0"/>
<path d="M1703.8 387.4L1705.2 392.1L1703.5 396.6L1705.1 400.2L1703.6 403.4L1704.9 408.4L1702.7 409.9L1702.7 442.1L1703.5 443.6L1705.2 447.5L1703.8 451.3L1705.5 454.8L1703.3 457.7L1705.3 461.4L1703.9 464.6" fill="none" stroke="#27D600" stroke-width="7.9" stroke-linecap="round" stroke-linejoin="round"/>
<path d="M1703.8 387.4C1704 388.2 1705.3 390.5 1705.2 392.1C1705.2 393.6 1703.5 395.3 1703.5 396.6C1703.5 398 1705.1 399 1705.1 400.2C1705.1 401.3 1703.6 402 1703.6 403.4C1703.5 404.8 1704.7 407.6 1704.9 408.4" fill="none" stroke="#27D600" stroke-width="8.8" stroke-linecap="round" stroke-linejoin="round"/>
<path d="M1703.5 443.6C1703.8 444.2 1705.2 446.2 1705.2 447.5C1705.3 448.8 1703.8 450.1 1703.8 451.3C1703.8 452.5 1705.5 453.7 1705.5 454.8C1705.4 455.8 1703.4 456.6 1703.3 457.7C1703.3 458.9 1705.2 460.3 1705.3 461.4C1705.4 462.6 1704.1 464.1 1703.9 464.6" fill="none" stroke="#27D600" stroke-width="8.8" stroke-linecap="round" stroke-linejoin="round"/>
<path d="M1703.8 387.4L1705.2 392.1L1703.5 396.6L1705.1 400.2L1703.6 403.4L1704.9 408.4L1702.7 409.9L1702.7 442.1L1703.5 443.6L1705.2 447.5L1703.8 451.3L1705.5 454.8L1703.3 457.7L1705.3 461.4L1703.9 464.6" fill="none" stroke="#75D600" stroke-width="6.8" stroke-linecap="round" stroke-linejoin="round"/>
<path d="M1703.8 387.4C1704 388.2 1705.3 390.5 1705.2 392.1C1705.2 393.6 1703.5 395.3 1703.5 396.6C1703.5 398 1705.1 399 1705.1 400.2C1705.1 401.3 1703.6 402 1703.6 403.4C1703.5 404.8 1704.7 407.6 1704.9 408.4" fill="none" stroke="#75D600" stroke-width="7.8" stroke-linecap="round" stroke-linejoin="round"/>
<path d="M1703.5 443.6C1703.8 444.2 1705.2 446.2 1705.2 447.5C1705.3 448.8 1703.8 450.1 1703.8 451.3C1703.8 452.5 1705.5 453.7 1705.5 454.8C1705.4 455.8 1703.4 456.6 1703.3 457.7C1703.3 458.9 1705.2 460.3 1705.3 461.4C1705.4 462.6 1704.1 464.1 1703.9 464.6" fill="none" stroke="#75D600" stroke-width="7.8" stroke-linecap="round" stroke-linejoin="round"/>
<path d="M1703.8 387.4L1705.2 392.1L1703.5 396.6L1705.1 400.2L1703.6 403.4L1704.9 408.4L1702.7 409.9L1702.7 442.1L1703.5 443.6L1705.2 447.5L1703.8 451.3L1705.5 454.8L1703.3 457.7L1705.3 461.4L1703.9 464.6" fill="none" stroke="#C3D600" stroke-width="6" stroke-linecap="round" stroke-linejoin="round"/>
<path d="M1703.8 387.4C1704 388.2 1705.3 390.5 1705.2 392.1C1705.2 393.6 1703.5 395.3 1703.5 396.6C1703.5 398 1705.1 399 1705.1 400.2C1705.1 401.3 1703.6 402 1703.6 403.4C1703.5 404.8 1704.7 407.6 1704.9 408.4" fill="none" stroke="#C3D600" stroke-width="6.9" stroke-linecap="round" stroke-linejoin="round"/>
<path d="M1703.5 443.6C1703.8 444.2 1705.2 446.2 1705.2 447.5C1705.3 448.8 1703.8 450.1 1703.8 451.3C1703.8 452.5 1705.5 453.7 1705.5 454.8C1705.4 455.8 1703.4 456.6 1703.3 457.7C1703.3 458.9 1705.2 460.3 1705.3 461.4C1705.4 462.6 1704.1 464.1 1703.9 464.6" fill="none" stroke="#C3D600" stroke-width="6.9" stroke-linecap="round" stroke-linejoin="round"/>
<path d="M1703.8 387.4L1705.2 392.1L1703.5 396.6L1705.1 400.2L1703.6 403.4L1704.9 408.4L1702.7 409.9L1702.7 442.1L1703.5 443.6L1705.2 447.5L1703.8 451.3L1705.5 454.8L1703.3 457.7L1705.3 461.4L1703.9 464.6" fill="none" stroke="#D69B00" stroke-width="4.8" stroke-linecap="round" stroke-linejoin="round"/>
<path d="M1703.8 387.4C1704 388.2 1705.3 390.5 1705.2 392.1C1705.2 393.6 1703.5 395.3 1703.5 396.6C1703.5 398 1705.1 399 1705.1 400.2C1705.1 401.3 1703.6 402 1703.6 403.4C1703.5 404.8 1704.7 407.6 1704.9 408.4" fill="none" stroke="#D69B00" stroke-width="5.7" stroke-linecap="round" stroke-linejoin="round"/>
<path d="M1703.5 443.6C1703.8 444.2 1705.2 446.2 1705.2 447.5C1705.3 448.8 1703.8 450.1 1703.8 451.3C1703.8 452.5 1705.5 453.7 1705.5 454.8C1705.4 455.8 1703.4 456.6 1703.3 457.7C1703.3 458.9 1705.2 460.3 1705.3 461.4C1705.4 462.6 1704.1 464.1 1703.9 464.6" fill="none" stroke="#D69B00" stroke-width="5.7" stroke-linecap="round" stroke-linejoin="round"/>
<path d="M1703.8 387.4L1705.2 392.1L1703.5 396.6L1705.1 400.2L1703.6 403.4L1704.9 408.4L1702.7 409.9L1702.7 442.1L1703.5 443.6L1705.2 447.5L1703.8 451.3L1705.5 454.8L1703.3 457.7L1705.3 461.4L1703.9 464.6" fill="none" stroke="#D64E00" stroke-width="3" stroke-linecap="round" stroke-linejoin="round"/>
<path d="M1703.8 387.4C1704 388.2 1705.3 390.5 1705.2 392.1C1705.2 393.6 1703.5 395.3 1703.5 396.6C1703.5 398 1705.1 399 1705.1 400.2C1705.1 401.3 1703.6 402 1703.6 403.4C1703.5 404.8 1704.7 407.6 1704.9 408.4" fill="none" stroke="#D60000" stroke-width="3.9" stroke-linecap="round" stroke-linejoin="round"/>
<path d="M1703.5 443.6C1703.8 444.2 1705.2 446.2 1705.2 447.5C1705.3 448.8 1703.8 450.1 1703.8 451.3C1703.8 452.5 1705.5 453.7 1705.5 454.8C1705.4 455.8 1703.4 456.6 1703.3 457.7C1703.3 458.9 1705.2 460.3 1705.3 461.4C1705.4 462.6 1704.1 464.1 1703.9 464.6" fill="none" stroke="#D60000" stroke-width="3.9" stroke-linecap="round" stroke-linejoin="round"/>
<path d="M1703.8 387.4C1704 388.2 1705.3 390.5 1705.2 392.1C1705.2 393.6 1703.5 395.3 1703.5 396.6C1703.5 398 1705.1 399 1705.1 400.2C1705.1 401.3 1703.6 402 1703.6 403.4C1703.5 404.8 1704.7 407.6 1704.9 408.4" fill="none" stroke="#B2B2B2" stroke-width="1.9" stroke-linecap="round" stroke-linejoin="round"/>
<path d="M1703.5 443.6C1703.8 444.2 1705.2 446.2 1705.2 447.5C1705.3 448.8 1703.8 450.1 1703.8 451.3C1703.8 452.5 1705.5 453.7 1705.5 454.8C1705.4 455.8 1703.4 456.6 1703.3 457.7C1703.3 458.9 1705.2 460.3 1705.3 461.4C1705.4 462.6 1704.1 464.1 1703.9 464.6" fill="none" stroke="#B2B2B2" stroke-width="1.9" stroke-linecap="round" stroke-linejoin="round"/>
<ellipse cx="1702.7" cy="426" rx="0.9" ry="1.3" fill="#4F6FD0"/>
<path d="M1760.1 388.4L1761.7 391.4L1760 395.4L1761.8 399.5L1759.7 403.2L1761.3 408.4L1758.7 409.9L1758.7 442.1L1759.8 443.6L1761.7 447.6L1759.7 450.8L1761.6 454.9L1760.1 458.3L1761.4 461.5L1760.2 464.6" fill="none" stroke="#27D600" stroke-width="8.1" stroke-linecap="round" stroke-linejoin="round"/>
<path d="M1760.1 388.4C1760.4 388.9 1761.7 390.2 1761.7 391.4C1761.7 392.5 1760 394 1760 395.4C1760 396.7 1761.9 398.2 1761.8 399.5C1761.8 400.8 1759.8 401.7 1759.7 403.2C1759.6 404.6 1761.1 407.5 1761.3 408.4" fill="none" stroke="#27D600" stroke-width="9.4" stroke-linecap="round" stroke-linejoin="round"/>
<path d="M1759.8 443.6C1760.1 444.3 1761.7 446.4 1761.7 447.6C1761.7 448.8 1759.7 449.6 1759.7 450.8C1759.7 452.1 1761.5 453.6 1761.6 454.9C1761.7 456.1 1760.1 457.2 1760.1 458.3C1760.1 459.4 1761.4 460.5 1761.4 461.5C1761.4 462.6 1760.4 464.1 1760.2 464.6" fill="none" stroke="#27D600" stroke-width="9.4" stroke-linecap="round" stroke-linejoin="round"/>
<path d="M1760.1 388.4L1761.7 391.4L1760 395.4L1761.8 399.5L1759.7 403.2L1761.3 408.4L1758.7 409.9L1758.7 442.1L1759.8 443.6L1761.7 447.6L1759.7 450.8L1761.6 454.9L1760.1 458.3L1761.4 461.5L1760.2 464.6" fill="none" stroke="#75D600" stroke-width="7.1" stroke-linecap="round" stroke-linejoin="round"/>
<path d="M1760.1 388.4C1760.4 388.9 1761.7 390.2 1761.7 391.4C1761.7 392.5 1760 394 1760 395.4C1760 396.7 1761.9 398.2 1761.8 399.5C1761.8 400.8 1759.8 401.7 1759.7 403.2C1759.6 404.6 1761.1 407.5 1761.3 408.4" fill="none" stroke="#75D600" stroke-width="8.6" stroke-linecap="round" stroke-linejoin="round"/>
<path d="M1759.8 443.6C1760.1 444.3 1761.7 446.4 1761.7 447.6C1761.7 448.8 1759.7 449.6 1759.7 450.8C1759.7 452.1 1761.5 453.6 1761.6 454.9C1761.7 456.1 1760.1 457.2 1760.1 458.3C1760.1 459.4 1761.4 460.5 1761.4 461.5C1761.4 462.6 1760.4 464.1 1760.2 464.6" fill="none" stroke="#75D600" stroke-width="8.6" stroke-linecap="round" stroke-linejoin="round"/>
<path d="M1760.1 388.4L1761.7 391.4L1760 395.4L1761.8 399.5L1759.7 403.2L1761.3 408.4L1758.7 409.9L1758.7 442.1L1759.8 443.6L1761.7 447.6L1759.7 450.8L1761.6 454.9L1760.1 458.3L1761.4 461.5L1760.2 464.6" fill="none" stroke="#C3D600" stroke-width="6.2" stroke-linecap="round" stroke-linejoin="round"/>
<path d="M1760.1 388.4C1760.4 388.9 1761.7 390.2 1761.7 391.4C1761.7 392.5 1760 394 1760 395.4C1760 396.7 1761.9 398.2 1761.8 399.5C1761.8 400.8 1759.8 401.7 1759.7 403.2C1759.6 404.6 1761.1 407.5 1761.3 408.4" fill="none" stroke="#C3D600" stroke-width="7.7" stroke-linecap="round" stroke-linejoin="round"/>
<path d="M1759.8 443.6C1760.1 444.3 1761.7 446.4 1761.7 447.6C1761.7 448.8 1759.7 449.6 1759.7 450.8C1759.7 452.1 1761.5 453.6 1761.6 454.9C1761.7 456.1 1760.1 457.2 1760.1 458.3C1760.1 459.4 1761.4 460.5 1761.4 461.5C1761.4 462.6 1760.4 464.1 1760.2 464.6" fill="none" stroke="#C3D600" stroke-width="7.7" stroke-linecap="round" stroke-linejoin="round"/>
<path d="M1760.1 388.4L1761.7 391.4L1760 395.4L1761.8 399.5L1759.7 403.2L1761.3 408.4L1758.7 409.9L1758.7 442.1L1759.8 443.6L1761.7 447.6L1759.7 450.8L1761.6 454.9L1760.1 458.3L1761.4 461.5L1760.2 464.6" fill="none" stroke="#D69B00" stroke-width="5.2" stroke-linecap="round" stroke-linejoin="round"/>
<path d="M1760.1 388.4C1760.4 388.9 1761.7 390.2 1761.7 391.4C1761.7 392.5 1760 394 1760 395.4C1760 396.7 1761.9 398.2 1761.8 399.5C1761.8 400.8 1759.8 401.7 1759.7 403.2C1759.6 404.6 1761.1 407.5 1761.3 408.4" fill="none" stroke="#D69B00" stroke-width="6.7" stroke-linecap="round" stroke-linejoin="round"/>
<path d="M1759.8 443.6C1760.1 444.3 1761.7 446.4 1761.7 447.6C1761.7 448.8 1759.7 449.6 1759.7 450.8C1759.7 452.1 1761.5 453.6 1761.6 454.9C1761.7 456.1 1760.1 457.2 1760.1 458.3C1760.1 459.4 1761.4 460.5 1761.4 461.5C1761.4 462.6 1760.4 464.1 1760.2 464.6" fill="none" stroke="#D69B00" stroke-width="6.7" stroke-linecap="round" stroke-linejoin="round"/>
<path d="M1760.1 388.4L1761.7 391.4L1760 395.4L1761.8 399.5L1759.7 403.2L1761.3 408.4L1758.7 409.9L1758.7 442.1L1759.8 443.6L1761.7 447.6L1759.7 450.8L1761.6 454.9L1760.1 458.3L1761.4 461.5L1760.2 464.6" fill="none" stroke="#D64E00" stroke-width="4.2" stroke-linecap="round" stroke-linejoin="round"/>
<path d="M1760.1 388.4C1760.4 388.9 1761.7 390.2 1761.7 391.4C1761.7 392.5 1760 394 1760 395.4C1760 396.7 1761.9 398.2 1761.8 399.5C1761.8 400.8 1759.8 401.7 1759.7 403.2C1759.6 404.6 1761.1 407.5 1761.3 408.4" fill="none" stroke="#D64E00" stroke-width="5.7" stroke-linecap="round" stroke-linejoin="round"/>
<path d="M1759.8 443.6C1760.1 444.3 1761.7 446.4 1761.7 447.6C1761.7 448.8 1759.7 449.6 1759.7 450.8C1759.7 452.1 1761.5 453.6 1761.6 454.9C1761.7 456.1 1760.1 457.2 1760.1 458.3C1760.1 459.4 1761.4 460.5 1761.4 461.5C1761.4 462.6 1760.4 464.1 1760.2 464.6" fill="none" stroke="#D64E00" stroke-width="5.7" stroke-linecap="round" stroke-linejoin="round"/>
<path d="M1760.1 388.4L1761.7 391.4L1760 395.4L1761.8 399.5L1759.7 403.2L1761.3 408.4L1758.7 409.9L1758.7 442.1L1759.8 443.6L1761.7 447.6L1759.7 450.8L1761.6 454.9L1760.1 458.3L1761.4 461.5L1760.2 464.6" fill="none" stroke="#D60000" stroke-width="2.8" stroke-linecap="round" stroke-linejoin="round"/>
<path d="M1760.1 388.4C1760.4 388.9 1761.7 390.2 1761.7 391.4C1761.7 392.5 1760 394 1760 395.4C1760 396.7 1761.9 398.2 1761.8 399.5C1761.8 400.8 1759.8 401.7 1759.7 403.2C1759.6 404.6 1761.1 407.5 1761.3 408.4" fill="none" stroke="#D60000" stroke-width="4.2" stroke-linecap="round" stroke-linejoin="round"/>
<path d="M1759.8 443.6C1760.1 444.3 1761.7 446.4 1761.7 447.6C1761.7 448.8 1759.7 449.6 1759.7 450.8C1759.7 452.1 1761.5 453.6 1761.6 454.9C1761.7 456.1 1760.1 457.2 1760.1 458.3C1760.1 459.4 1761.4 460.5 1761.4 461.5C1761.4 462.6 1760.4 464.1 1760.2 464.6" fill="none" stroke="#D60000" stroke-width="4.2" stroke-linecap="round" stroke-linejoin="round"/>
<path d="M1760.1 388.4C1760.4 388.9 1761.7 390.2 1761.7 391.4C1761.7 392.5 1760 394 1760 395.4C1760 396.7 1761.9 398.2 1761.8 399.5C1761.8 400.8 1759.8 401.7 1759.7 403.2C1759.6 404.6 1761.1 407.5 1761.3 408.4" fill="none" stroke="#B2B2B2" stroke-width="3.1" stroke-linecap="round" stroke-linejoin="round"/>
<path d="M1759.8 443.6C1760.1 444.3 1761.7 446.4 1761.7 447.6C1761.7 448.8 1759.7 449.6 1759.7 450.8C1759.7 452.1 1761.5 453.6 1761.6 454.9C1761.7 456.1 1760.1 457.2 1760.1 458.3C1760.1 459.4 1761.4 460.5 1761.4 461.5C1761.4 462.6 1760.4 464.1 1760.2 464.6" fill="none" stroke="#B2B2B2" stroke-width="3.1" stroke-linecap="round" stroke-linejoin="round"/>
<ellipse cx="1758.7" cy="426" rx="0.9" ry="1.3" fill="#4F6FD0"/>
</g></g>
<g clip-path="url(#cd)"><g filter="url(#soft)">
<rect x="2017.7" y="-1.9" width="569.9" height="574.5" fill="#004ED6"/>
<rect x="2023.7" y="4.1" width="557.9" height="562.5" fill="#004ED6"/>
<path d="M2027.1 17.6C2027.1 12.1 2031.6 7.6 2037.1 7.6L2584 7.3C2584.6 7.3 2585 7.8 2585 8.3L2585 561.6C2585 562.1 2584.6 562.6 2584 562.6L2037.1 561.4C2031.6 561.4 2027.1 556.9 2027.1 551.4Z" fill="#009BD6"/>
<path d="M2553 4L2583 4L2583 36L2581.3 34L2580.6 26L2579.5 18L2576 12.6L2571 10L2566 8.6L2553 7.3Z" fill="#004ED6"/>
<path d="M2583 536L2583 568L2540 568L2540 562.6L2562 562.3L2569 561L2575 557.5L2578.6 552L2579.9 545L2580.6 538Z" fill="#004ED6"/>
<path d="M2232 7L2240.5 7.4L2242.5 8.6L2336 8.6L2338 9.5L2427 9.4L2429 8.2L2494 8.1L2497 7.4L2512 7Z" fill="#004ED6"/>
<path d="M2039.8 34.1C2039.7 26.4 2046 20.1 2053.7 20.1L2551.6 20C2561 20 2568.6 27.6 2568.5 37L2565.9 527.4C2565.8 537.9 2557.3 546.4 2546.8 546.4L2056.2 547.6C2048.5 547.6 2042.2 541.3 2042.1 533.6Z" fill="#00D6C3"/>
<path d="M2215 16C2164.1 16.7 2230.2 19.1 2239.7 20C2249.2 20.9 2262.3 21.1 2272.2 21.7C2282.1 22.3 2290.2 22.9 2299.2 23.9C2308.2 24.9 2318 26.2 2326.3 27.5C2334.6 28.8 2342.8 30.3 2348.8 31.6C2354.8 32.9 2358.6 33.9 2362.4 35.2C2366.2 36.6 2369.2 37.9 2371.4 39.7C2373.6 41.5 2375.2 43.6 2375.5 46C2375.8 48.4 2374 51.4 2373.2 54.1C2372.3 56.8 2371.1 58.3 2370.4 62C2369.7 65.7 2367.8 71.3 2368.8 76.3C2369.8 81.3 2372.7 88.1 2376.6 91.9C2380.5 95.7 2386.7 99 2392.2 99C2397.7 99 2405.4 96 2409.8 91.9C2414.2 87.8 2417.5 79.3 2418.4 74.3C2419.3 69.3 2416.6 65.4 2415.5 62C2414.4 58.6 2413.2 56.5 2412 54C2410.8 51.5 2408.4 49.1 2408 46.9C2407.6 44.7 2407.9 42.5 2409.4 40.6C2410.9 38.7 2412.7 37.2 2417 35.2C2421.3 33.2 2429 30.5 2435 28.9C2441 27.2 2447.2 26.4 2453.2 25.3C2459.2 24.2 2465.2 23.3 2471.2 22.6C2477.2 21.9 2483.3 21.6 2489.3 21.2C2495.3 20.8 2499.7 20.5 2507.3 20.3C2514.9 20.1 2528.7 20.7 2535 20C2541.3 19.3 2598.3 16.7 2545 16C2491.7 15.3 2265.9 15.3 2215 16Z" fill="#009BD6"/>
<path d="M2390.3 111.8C2383.2 112.7 2383.1 110.7 2379 109C2374.9 107.3 2370.8 104.6 2365.5 101.9C2360.2 99.2 2351.8 94.8 2347.4 92.8C2343 90.8 2341.2 90.5 2339 90C2336.8 89.5 2336.3 89.2 2334 89.6C2331.7 90 2329.2 92.6 2325 92.6C2320.8 92.6 2315.4 91.5 2309 89.5C2302.6 87.5 2294.1 83 2286.6 80.4C2279.1 77.8 2271.5 75.2 2264 73.7C2256.5 72.2 2247.9 71.3 2241.5 71.4C2235.1 71.5 2230.2 72.7 2225.7 74.4C2221.2 76.1 2218.2 78.5 2214.4 81.6C2210.6 84.7 2206.8 89.1 2203 92.8C2199.2 96.5 2196.4 98 2191.9 104C2187.4 110 2180.9 120 2176 129C2171.1 138 2166.2 146.7 2162.5 158.2C2158.8 169.7 2155.4 184.4 2153.7 198C2151.9 211.6 2150.9 225.5 2152 240C2153.1 254.5 2155.9 270 2160.3 285C2164.7 300 2170.4 314.4 2178.3 330.2C2186.2 346 2199.1 366.2 2207.7 379.8C2216.3 393.4 2224.1 403.2 2230 411.6C2235.9 420 2240.9 423.6 2243.4 430C2245.9 436.4 2244.7 442.9 2245.2 450C2245.7 457.1 2244.5 468.6 2246.2 472.8C2247.9 477.1 2249.8 473.6 2255.6 475.5C2261.4 477.4 2273.7 481.6 2281 484.4C2288.3 487.2 2295.8 490.1 2299.5 492.4C2303.2 494.7 2302.1 497.2 2303.5 498C2304.9 498.8 2306.2 499.5 2308 497C2309.8 494.5 2309.1 488.7 2314.4 483C2319.7 477.3 2332.1 469.2 2340 463C2347.9 456.8 2357.3 450.2 2362 446C2366.7 441.8 2366.8 442.3 2368 438C2369.2 433.7 2369.1 429.7 2369.3 420C2369.5 410.3 2369.3 390.7 2369.3 380C2369.3 369.3 2370.4 362.5 2369.3 356C2368.2 349.5 2365.9 345.3 2363 341C2360.1 336.7 2356.8 335.8 2352 330.2C2347.2 324.6 2338.3 316.7 2334 307.7C2329.7 298.7 2326.6 285.6 2325.9 276C2325.2 266.4 2327.4 258.5 2329.7 250.3C2332 242.1 2335.3 234 2339.5 226.8C2343.7 219.6 2349.2 212.5 2355 207.3C2360.8 202.1 2368.7 197.7 2374.6 195.5C2380.5 193.3 2384.4 195.1 2390.3 194.4C2396.2 193.8 2403.9 191.4 2409.8 191.6C2415.7 191.8 2418.3 193.2 2425.5 195.5C2432.7 197.8 2443.1 202.7 2452.9 205.3C2462.7 207.9 2473.8 212.2 2484.2 211.2C2494.6 210.2 2506.9 205.4 2515.4 199.5C2523.9 193.6 2530.8 185.1 2535 176C2539.2 166.9 2540.9 154.5 2540.9 144.7C2540.9 134.9 2539.2 125.1 2535 117.3C2530.8 109.5 2523.9 102.2 2515.4 97.8C2506.9 93.4 2494.6 91.3 2484.2 90.7C2473.8 90.1 2463.3 91.8 2452.9 93.9C2442.5 96.1 2432 100.6 2421.6 103.6C2411.2 106.6 2397.4 110.9 2390.3 111.8Z" fill="#00D675"/>
<path d="M2390.3 194.4C2385.3 194.4 2381.6 195.6 2378 198C2374.4 200.4 2370.9 205 2369 209C2367.1 213 2366.5 217.8 2366.8 222C2367.1 226.2 2368.6 230.5 2371 234C2373.4 237.5 2377.2 241 2381 243C2384.8 245 2389.7 246.1 2394 246C2398.3 245.9 2403.2 244.7 2407 242.5C2410.8 240.3 2414.7 236.6 2417 233C2419.3 229.4 2420.6 225.2 2420.8 221C2421 216.8 2420.1 211.8 2418 208C2415.9 204.2 2412.6 200.3 2408 198C2403.4 195.7 2395.3 194.4 2390.3 194.4Z" fill="#009BD6"/>
<ellipse cx="2392.4" cy="209.2" rx="15.3" ry="14.2" fill="#004ED6"/>
<ellipse cx="2392.1" cy="203.7" rx="9.2" ry="8.8" fill="#0000D6"/>
<path d="M2388.6 125.7C2385.7 126 2380.6 122.3 2375.2 120C2369.8 117.7 2361.8 114.3 2356.4 111.6C2351 108.9 2346.1 105.8 2343 104C2339.9 102.2 2340.2 100.5 2338 100.5C2335.8 100.5 2331.6 101.1 2330 104C2328.4 106.9 2330.6 114.2 2328.2 118C2325.8 121.8 2318.8 123.5 2315.4 126.5C2312 129.5 2309.5 132.7 2308 136C2306.5 139.3 2306.7 140.6 2306.6 146.4C2306.5 152.2 2306.6 165.1 2307.5 170.8C2308.4 176.5 2309.3 177.5 2311.8 180.6C2314.3 183.7 2318.5 187.8 2322.7 189.6C2326.9 191.4 2331.4 191.6 2337 191.4C2342.6 191.2 2350 188.9 2356.4 188.4C2362.8 187.9 2370.2 187.7 2375.2 188.4C2380.2 189.1 2384 191.4 2386.5 192.4C2389 193.4 2388.4 194.6 2390.3 194.6C2392.2 194.6 2393.3 193.6 2397.7 192.4C2402.1 191.2 2409.6 190 2416.5 187.7C2423.4 185.3 2432.8 182.1 2439 178.3C2445.2 174.5 2450.8 169.7 2454 165C2457.2 160.3 2459.1 155.9 2458.2 150C2457.3 144.1 2452.9 134.5 2448.5 129.5C2444.1 124.5 2438.8 121.9 2431.6 120C2424.4 118.1 2411.7 118.5 2405.2 118.2C2398.7 117.9 2395.3 117.2 2392.5 118.4C2389.7 119.7 2391.5 125.4 2388.6 125.7Z" fill="#00D627"/>
<path d="M2336 150C2336.6 146.4 2338.5 150.7 2339.6 152C2340.7 153.3 2341.9 155.7 2342.3 158C2342.8 160.3 2342.8 163.8 2342.3 166C2341.9 168.2 2340.7 170.3 2339.6 171.5C2338.5 172.7 2336.6 177 2336 173.4C2335.4 169.8 2335.4 153.6 2336 150Z" fill="#00D675"/>
<path d="M2390.4 194.4L2383.8 193.5L2376.2 191L2368.8 186.9L2362.4 181.4L2357.4 174.9L2354.3 167.7L2353.2 160L2353.9 151.2L2356.2 145L2359.8 140L2364.9 136L2371.3 133.1L2379.2 131.4L2390.4 130.8L2404.3 131.4L2414.2 133.1L2422.2 136L2428.5 140L2433.1 145L2435.9 151.2L2436.8 160L2435.5 167.7L2431.6 174.9L2425.4 181.4L2417.4 186.9L2408.2 191L2398.6 193.5Z" fill="#27D600"/>
<path d="M2390.4 194.1L2385.8 193.3L2380.1 191L2374.5 187.3L2369.6 182.4L2365.7 176.5L2363.2 169.9L2362.4 163L2363 155.1L2364.6 149.5L2367.4 144.9L2371.2 141.3L2376 138.7L2382 137.1L2390.4 136.6L2400.6 137.1L2407.8 138.7L2413.7 141.3L2418.3 144.9L2421.7 149.5L2423.7 155.1L2424.4 163L2423.4 169.9L2420.4 176.5L2415.7 182.4L2409.7 187.3L2402.9 191L2396 193.3Z" fill="#75D600"/>
<path d="M2390.4 193.8L2387.2 193.1L2383 191.1L2378.8 188L2375 183.7L2372.1 178.6L2370.2 173L2369.5 167L2369.9 161.3L2371.2 157.2L2373.3 153.8L2376.2 151.1L2379.9 149.2L2384.3 148L2390.4 147.6L2397.6 148L2402.8 149.2L2407.1 151.1L2410.5 153.8L2413 157.2L2414.5 161.3L2415 167L2414.2 173L2412 178.6L2408.5 183.7L2404 188L2399.1 191.1L2394.2 193.1Z" fill="#C3D600"/>
<path d="M2390.4 193.4L2388.4 192.8L2385.6 191.2L2382.7 188.5L2380 185L2377.9 180.7L2376.6 176L2376.1 171L2376.4 167.2L2377.3 164.3L2378.8 161.9L2380.8 160L2383.4 158.6L2386.4 157.7L2390.4 157.4L2395.2 157.7L2398.8 158.6L2401.8 160L2404.3 161.9L2406 164.3L2407.1 167.2L2407.5 171L2406.9 176L2405.3 180.7L2402.8 185L2399.7 188.5L2396.2 191.2L2392.8 192.8Z" fill="#D69B00"/>
<path d="M2390.4 191.9L2389 191.4L2387 189.9L2384.9 187.6L2383 184.4L2381.5 180.6L2380.5 176.4L2380.2 172L2380.5 169L2381.2 166.2L2382.4 163.6L2384 161.5L2386 159.9L2388.1 158.9L2390.4 158.6L2393.1 158.9L2395.7 159.9L2398 161.5L2399.9 163.6L2401.4 166.2L2402.3 169L2402.6 172L2402.2 176.4L2401.1 180.6L2399.3 184.4L2397 187.6L2394.5 189.9L2392.1 191.4Z" fill="#D64E00"/>
<path d="M2390.4 190.4L2389.3 190L2387.8 188.7L2386.3 186.6L2384.9 183.8L2383.8 180.5L2383 176.9L2382.8 173L2383 170L2383.6 167.2L2384.5 164.6L2385.7 162.5L2387.1 160.9L2388.7 159.9L2390.4 159.6L2392.4 159.9L2394.4 160.9L2396.1 162.5L2397.6 164.6L2398.7 167.2L2399.4 170L2399.6 173L2399.3 176.9L2398.4 180.5L2397.1 183.8L2395.4 186.6L2393.5 188.7L2391.7 190Z" fill="#D60000"/>
<path d="M2388.1 111.4C2387.5 113.9 2388.2 123.5 2388 126.6C2387.8 129.7 2387.3 127.8 2387.1 130C2386.9 132.2 2386.9 136.7 2386.9 140C2386.9 143.3 2387.2 147.6 2387.1 150C2387 152.4 2386.4 152.8 2386.2 154.5C2386 156.2 2385.8 158.1 2385.8 160C2385.8 161.9 2386.2 164 2386.2 166C2386.2 168 2385.8 170 2385.8 172C2385.8 174 2386.1 176.2 2386.2 178C2386.3 179.8 2386 181.2 2386.2 183C2386.4 184.8 2386.8 186.4 2387.4 188.5C2388 190.6 2389.1 195.2 2390 195.4C2390.9 195.7 2392 191.7 2393 190C2394 188.3 2395.2 187.3 2395.8 185.5C2396.4 183.7 2396.5 181.1 2396.6 179C2396.7 176.9 2396.2 175 2396.2 173C2396.2 171 2396.8 169 2396.8 167C2396.8 165 2396.4 162.9 2396.2 161C2396 159.1 2396.1 156.9 2395.6 155.5C2395.1 154.1 2393.6 155.1 2393.2 152.5C2392.8 149.9 2393.2 143.8 2393.2 140C2393.2 136.2 2393.3 132.2 2393.1 130C2392.9 127.8 2392 129.7 2391.8 126.6C2391.6 123.5 2392.4 113.9 2391.8 111.4C2391.2 108.9 2388.7 108.9 2388.1 111.4Z" fill="#B2B2B2"/>
<ellipse cx="2389.9" cy="144.7" rx="0.9" ry="1.3" fill="#4F6FD0"/>
<path d="M2221.3 103.2L2221.3 187.2" fill="none" stroke="#27D600" stroke-width="7.2" stroke-linecap="round" stroke-linejoin="round"/>
<path d="M2221.3 103.2L2221.3 187.2" fill="none" stroke="#75D600" stroke-width="6.2" stroke-linecap="round" stroke-linejoin="round"/>
<path d="M2221.3 103.2L2221.3 187.2" fill="none" stroke="#C3D600" stroke-width="5.2" stroke-linecap="round" stroke-linejoin="round"/>
<path d="M2221.3 103.2L2221.3 187.2" fill="none" stroke="#D69B00" stroke-width="3.8" stroke-linecap="round" stroke-linejoin="round"/>
<ellipse cx="2221.3" cy="144.7" rx="0.9" ry="1.3" fill="#4F6FD0"/>
<path d="M2278.1 109.2L2279.7 112.4L2277.5 116.3L2279.6 120.8L2278.2 124.2L2277.2 125.7L2277.2 164.5L2277.7 166L2279.7 170.3L2277.9 173.3L2280 177.8L2278.1 181.2L2279.9 184.3L2277.7 187.7L2280.1 190.8L2277.5 193.8L2279.3 197" fill="none" stroke="#27D600" stroke-width="8.2" stroke-linecap="round" stroke-linejoin="round"/>
<path d="M2278.1 109.2C2278.3 109.7 2279.8 111.3 2279.7 112.4C2279.6 113.6 2277.6 114.9 2277.5 116.3C2277.5 117.6 2279.5 119.5 2279.6 120.8C2279.7 122.1 2278.5 123.6 2278.2 124.2" fill="none" stroke="#27D600" stroke-width="9.2" stroke-linecap="round" stroke-linejoin="round"/>
<path d="M2277.7 166C2278 166.7 2279.7 169 2279.7 170.3C2279.8 171.5 2277.8 172 2277.9 173.3C2277.9 174.6 2280 176.5 2280 177.8C2280.1 179.1 2278.2 180.1 2278.1 181.2C2278.1 182.3 2279.9 183.2 2279.9 184.3C2279.8 185.4 2277.6 186.6 2277.7 187.7C2277.7 188.8 2280.1 189.8 2280.1 190.8C2280 191.8 2277.7 192.7 2277.5 193.8C2277.4 194.8 2279 196.5 2279.3 197" fill="none" stroke="#27D600" stroke-width="9.2" stroke-linecap="round" stroke-linejoin="round"/>
<path d="M2278.1 109.2L2279.7 112.4L2277.5 116.3L2279.6 120.8L2278.2 124.2L2277.2 125.7L2277.2 164.5L2277.7 166L2279.7 170.3L2277.9 173.3L2280 177.8L2278.1 181.2L2279.9 184.3L2277.7 187.7L2280.1 190.8L2277.5 193.8L2279.3 197" fill="none" stroke="#75D600" stroke-width="7.3" stroke-linecap="round" stroke-linejoin="round"/>
<path d="M2278.1 109.2C2278.3 109.7 2279.8 111.3 2279.7 112.4C2279.6 113.6 2277.6 114.9 2277.5 116.3C2277.5 117.6 2279.5 119.5 2279.6 120.8C2279.7 122.1 2278.5 123.6 2278.2 124.2" fill="none" stroke="#75D600" stroke-width="8.3" stroke-linecap="round" stroke-linejoin="round"/>
<path d="M2277.7 166C2278 166.7 2279.7 169 2279.7 170.3C2279.8 171.5 2277.8 172 2277.9 173.3C2277.9 174.6 2280 176.5 2280 177.8C2280.1 179.1 2278.2 180.1 2278.1 181.2C2278.1 182.3 2279.9 183.2 2279.9 184.3C2279.8 185.4 2277.6 186.6 2277.7 187.7C2277.7 188.8 2280.1 189.8 2280.1 190.8C2280 191.8 2277.7 192.7 2277.5 193.8C2277.4 194.8 2279 196.5 2279.3 197" fill="none" stroke="#75D600" stroke-width="8.3" stroke-linecap="round" stroke-linejoin="round"/>
<path d="M2278.1 109.2L2279.7 112.4L2277.5 116.3L2279.6 120.8L2278.2 124.2L2277.2 125.7L2277.2 164.5L2277.7 166L2279.7 170.3L2277.9 173.3L2280 177.8L2278.1 181.2L2279.9 184.3L2277.7 187.7L2280.1 190.8L2277.5 193.8L2279.3 197" fill="none" stroke="#C3D600" stroke-width="6.5" stroke-linecap="round" stroke-linejoin="round"/>
<path d="M2278.1 109.2C2278.3 109.7 2279.8 111.3 2279.7 112.4C2279.6 113.6 2277.6 114.9 2277.5 116.3C2277.5 117.6 2279.5 119.5 2279.6 120.8C2279.7 122.1 2278.5 123.6 2278.2 124.2" fill="none" stroke="#C3D600" stroke-width="7.5" stroke-linecap="round" stroke-linejoin="round"/>
<path d="M2277.7 166C2278 166.7 2279.7 169 2279.7 170.3C2279.8 171.5 2277.8 172 2277.9 173.3C2277.9 174.6 2280 176.5 2280 177.8C2280.1 179.1 2278.2 180.1 2278.1 181.2C2278.1 182.3 2279.9 183.2 2279.9 184.3C2279.8 185.4 2277.6 186.6 2277.7 187.7C2277.7 188.8 2280.1 189.8 2280.1 190.8C2280 191.8 2277.7 192.7 2277.5 193.8C2277.4 194.8 2279 196.5 2279.3 197" fill="none" stroke="#C3D600" stroke-width="7.5" stroke-linecap="round" stroke-linejoin="round"/>
<path d="M2278.1 109.2L2279.7 112.4L2277.5 116.3L2279.6 120.8L2278.2 124.2L2277.2 125.7L2277.2 164.5L2277.7 166L2279.7 170.3L2277.9 173.3L2280 177.8L2278.1 181.2L2279.9 184.3L2277.7 187.7L2280.1 190.8L2277.5 193.8L2279.3 197" fill="none" stroke="#D69B00" stroke-width="5.5" stroke-linecap="round" stroke-linejoin="round"/>
<path d="M2278.1 109.2C2278.3 109.7 2279.8 111.3 2279.7 112.4C2279.6 113.6 2277.6 114.9 2277.5 116.3C2277.5 117.6 2279.5 119.5 2279.6 120.8C2279.7 122.1 2278.5 123.6 2278.2 124.2" fill="none" stroke="#D69B00" stroke-width="6.5" stroke-linecap="round" stroke-linejoin="round"/>
<path d="M2277.7 166C2278 166.7 2279.7 169 2279.7 170.3C2279.8 171.5 2277.8 172 2277.9 173.3C2277.9 174.6 2280 176.5 2280 177.8C2280.1 179.1 2278.2 180.1 2278.1 181.2C2278.1 182.3 2279.9 183.2 2279.9 184.3C2279.8 185.4 2277.6 186.6 2277.7 187.7C2277.7 188.8 2280.1 189.8 2280.1 190.8C2280 191.8 2277.7 192.7 2277.5 193.8C2277.4 194.8 2279 196.5 2279.3 197" fill="none" stroke="#D69B00" stroke-width="6.5" stroke-linecap="round" stroke-linejoin="round"/>
<path d="M2278.1 109.2L2279.7 112.4L2277.5 116.3L2279.6 120.8L2278.2 124.2L2277.2 125.7L2277.2 164.5L2277.7 166L2279.7 170.3L2277.9 173.3L2280 177.8L2278.1 181.2L2279.9 184.3L2277.7 187.7L2280.1 190.8L2277.5 193.8L2279.3 197" fill="none" stroke="#D64E00" stroke-width="4.5" stroke-linecap="round" stroke-linejoin="round"/>
<path d="M2278.1 109.2C2278.3 109.7 2279.8 111.3 2279.7 112.4C2279.6 113.6 2277.6 114.9 2277.5 116.3C2277.5 117.6 2279.5 119.5 2279.6 120.8C2279.7 122.1 2278.5 123.6 2278.2 124.2" fill="none" stroke="#D64E00" stroke-width="5.5" stroke-linecap="round" stroke-linejoin="round"/>
<path d="M2277.7 166C2278 166.7 2279.7 169 2279.7 170.3C2279.8 171.5 2277.8 172 2277.9 173.3C2277.9 174.6 2280 176.5 2280 177.8C2280.1 179.1 2278.2 180.1 2278.1 181.2C2278.1 182.3 2279.9 183.2 2279.9 184.3C2279.8 185.4 2277.6 186.6 2277.7 187.7C2277.7 188.8 2280.1 189.8 2280.1 190.8C2280 191.8 2277.7 192.7 2277.5 193.8C2277.4 194.8 2279 196.5 2279.3 197" fill="none" stroke="#D64E00" stroke-width="5.5" stroke-linecap="round" stroke-linejoin="round"/>
<path d="M2278.1 109.2L2279.7 112.4L2277.5 116.3L2279.6 120.8L2278.2 124.2L2277.2 125.7L2277.2 164.5L2277.7 166L2279.7 170.3L2277.9 173.3L2280 177.8L2278.1 181.2L2279.9 184.3L2277.7 187.7L2280.1 190.8L2277.5 193.8L2279.3 197" fill="none" stroke="#D60000" stroke-width="3" stroke-linecap="round" stroke-linejoin="round"/>
<path d="M2278.1 109.2C2278.3 109.7 2279.8 111.3 2279.7 112.4C2279.6 113.6 2277.6 114.9 2277.5 116.3C2277.5 117.6 2279.5 119.5 2279.6 120.8C2279.7 122.1 2278.5 123.6 2278.2 124.2" fill="none" stroke="#D60000" stroke-width="4" stroke-linecap="round" stroke-linejoin="round"/>
<path d="M2277.7 166C2278 166.7 2279.7 169 2279.7 170.3C2279.8 171.5 2277.8 172 2277.9 173.3C2277.9 174.6 2280 176.5 2280 177.8C2280.1 179.1 2278.2 180.1 2278.1 181.2C2278.1 182.3 2279.9 183.2 2279.9 184.3C2279.8 185.4 2277.6 186.6 2277.7 187.7C2277.7 188.8 2280.1 189.8 2280.1 190.8C2280 191.8 2277.7 192.7 2277.5 193.8C2277.4 194.8 2279 196.5 2279.3 197" fill="none" stroke="#D60000" stroke-width="4" stroke-linecap="round" stroke-linejoin="round"/>
<path d="M2278.1 109.2C2278.3 109.7 2279.8 111.3 2279.7 112.4C2279.6 113.6 2277.6 114.9 2277.5 116.3C2277.5 117.6 2279.5 119.5 2279.6 120.8C2279.7 122.1 2278.5 123.6 2278.2 124.2" fill="none" stroke="#B2B2B2" stroke-width="2.9" stroke-linecap="round" stroke-linejoin="round"/>
<path d="M2277.7 166C2278 166.7 2279.7 169 2279.7 170.3C2279.8 171.5 2277.8 172 2277.9 173.3C2277.9 174.6 2280 176.5 2280 177.8C2280.1 179.1 2278.2 180.1 2278.1 181.2C2278.1 182.3 2279.9 183.2 2279.9 184.3C2279.8 185.4 2277.6 186.6 2277.7 187.7C2277.7 188.8 2280.1 189.8 2280.1 190.8C2280 191.8 2277.7 192.7 2277.5 193.8C2277.4 194.8 2279 196.5 2279.3 197" fill="none" stroke="#B2B2B2" stroke-width="2.9" stroke-linecap="round" stroke-linejoin="round"/>
<ellipse cx="2277.2" cy="144.7" rx="0.9" ry="1.3" fill="#4F6FD0"/>
<path d="M2334.4 96.2L2336.4 99.7L2334.6 103.8L2336.5 108.2L2334.2 111.4L2336.7 115.6L2334.5 120.2L2336 123.6L2334.3 127.1L2336 131.2L2333.5 132.7L2333.5 179.6" fill="none" stroke="#75D600" stroke-width="6.7" stroke-linecap="round" stroke-linejoin="round"/>
<path d="M2334.4 96.2C2334.7 96.8 2336.4 98.4 2336.4 99.7C2336.5 100.9 2334.5 102.3 2334.6 103.8C2334.6 105.2 2336.5 106.9 2336.5 108.2C2336.4 109.5 2334.2 110.1 2334.2 111.4C2334.2 112.6 2336.6 114.1 2336.7 115.6C2336.7 117 2334.6 118.9 2334.5 120.2C2334.4 121.6 2336.1 122.5 2336 123.6C2336 124.8 2334.3 125.8 2334.3 127.1C2334.3 128.3 2335.7 130.5 2336 131.2" fill="none" stroke="#75D600" stroke-width="9" stroke-linecap="round" stroke-linejoin="round"/>
<path d="M2334.4 96.2L2336.4 99.7L2334.6 103.8L2336.5 108.2L2334.2 111.4L2336.7 115.6L2334.5 120.2L2336 123.6L2334.3 127.1L2336 131.2L2333.5 132.7L2333.5 179.6" fill="none" stroke="#C3D600" stroke-width="6" stroke-linecap="round" stroke-linejoin="round"/>
<path d="M2334.4 96.2C2334.7 96.8 2336.4 98.4 2336.4 99.7C2336.5 100.9 2334.5 102.3 2334.6 103.8C2334.6 105.2 2336.5 106.9 2336.5 108.2C2336.4 109.5 2334.2 110.1 2334.2 111.4C2334.2 112.6 2336.6 114.1 2336.7 115.6C2336.7 117 2334.6 118.9 2334.5 120.2C2334.4 121.6 2336.1 122.5 2336 123.6C2336 124.8 2334.3 125.8 2334.3 127.1C2334.3 128.3 2335.7 130.5 2336 131.2" fill="none" stroke="#C3D600" stroke-width="8.2" stroke-linecap="round" stroke-linejoin="round"/>
<path d="M2334.4 96.2L2336.4 99.7L2334.6 103.8L2336.5 108.2L2334.2 111.4L2336.7 115.6L2334.5 120.2L2336 123.6L2334.3 127.1L2336 131.2L2333.5 132.7L2333.5 179.6" fill="none" stroke="#D69B00" stroke-width="5.2" stroke-linecap="round" stroke-linejoin="round"/>
<path d="M2334.4 96.2C2334.7 96.8 2336.4 98.4 2336.4 99.7C2336.5 100.9 2334.5 102.3 2334.6 103.8C2334.6 105.2 2336.5 106.9 2336.5 108.2C2336.4 109.5 2334.2 110.1 2334.2 111.4C2334.2 112.6 2336.6 114.1 2336.7 115.6C2336.7 117 2334.6 118.9 2334.5 120.2C2334.4 121.6 2336.1 122.5 2336 123.6C2336 124.8 2334.3 125.8 2334.3 127.1C2334.3 128.3 2335.7 130.5 2336 131.2" fill="none" stroke="#D69B00" stroke-width="7.6" stroke-linecap="round" stroke-linejoin="round"/>
<path d="M2334.4 96.2L2336.4 99.7L2334.6 103.8L2336.5 108.2L2334.2 111.4L2336.7 115.6L2334.5 120.2L2336 123.6L2334.3 127.1L2336 131.2L2333.5 132.7L2333.5 179.6" fill="none" stroke="#D64E00" stroke-width="4.7" stroke-linecap="round" stroke-linejoin="round"/>
<path d="M2334.4 96.2C2334.7 96.8 2336.4 98.4 2336.4 99.7C2336.5 100.9 2334.5 102.3 2334.6 103.8C2334.6 105.2 2336.5 106.9 2336.5 108.2C2336.4 109.5 2334.2 110.1 2334.2 111.4C2334.2 112.6 2336.6 114.1 2336.7 115.6C2336.7 117 2334.6 118.9 2334.5 120.2C2334.4 121.6 2336.1 122.5 2336 123.6C2336 124.8 2334.3 125.8 2334.3 127.1C2334.3 128.3 2335.7 130.5 2336 131.2" fill="none" stroke="#D64E00" stroke-width="7" stroke-linecap="round" stroke-linejoin="round"/>
<path d="M2334.4 96.2L2336.4 99.7L2334.6 103.8L2336.5 108.2L2334.2 111.4L2336.7 115.6L2334.5 120.2L2336 123.6L2334.3 127.1L2336 131.2L2333.5 132.7L2333.5 179.6" fill="none" stroke="#D60000" stroke-width="3.6" stroke-linecap="round" stroke-linejoin="round"/>
<path d="M2334.4 96.2C2334.7 96.8 2336.4 98.4 2336.4 99.7C2336.5 100.9 2334.5 102.3 2334.6 103.8C2334.6 105.2 2336.5 106.9 2336.5 108.2C2336.4 109.5 2334.2 110.1 2334.2 111.4C2334.2 112.6 2336.6 114.1 2336.7 115.6C2336.7 117 2334.6 118.9 2334.5 120.2C2334.4 121.6 2336.1 122.5 2336 123.6C2336 124.8 2334.3 125.8 2334.3 127.1C2334.3 128.3 2335.7 130.5 2336 131.2" fill="none" stroke="#D60000" stroke-width="5.9" stroke-linecap="round" stroke-linejoin="round"/>
<path d="M2334.4 96.2C2334.7 96.8 2336.4 98.4 2336.4 99.7C2336.5 100.9 2334.5 102.3 2334.6 103.8C2334.6 105.2 2336.5 106.9 2336.5 108.2C2336.4 109.5 2334.2 110.1 2334.2 111.4C2334.2 112.6 2336.6 114.1 2336.7 115.6C2336.7 117 2334.6 118.9 2334.5 120.2C2334.4 121.6 2336.1 122.5 2336 123.6C2336 124.8 2334.3 125.8 2334.3 127.1C2334.3 128.3 2335.7 130.5 2336 131.2" fill="none" stroke="#B2B2B2" stroke-width="4.9" stroke-linecap="round" stroke-linejoin="round"/>
<path d="M2333.5 128L2333.5 179" fill="none" stroke="#B2B2B2" stroke-width="3.2" stroke-linecap="butt" stroke-linejoin="round"/>
<ellipse cx="2333.5" cy="144.7" rx="0.9" ry="1.3" fill="#4F6FD0"/>
<path d="M2249.4 383.8L2249.4 468.8" fill="none" stroke="#27D600" stroke-width="7.2" stroke-linecap="round" stroke-linejoin="round"/>
<path d="M2249.4 383.8L2249.4 468.8" fill="none" stroke="#75D600" stroke-width="6.2" stroke-linecap="round" stroke-linejoin="round"/>
<path d="M2249.4 383.8L2249.4 468.8" fill="none" stroke="#C3D600" stroke-width="5.2" stroke-linecap="round" stroke-linejoin="round"/>
<path d="M2249.4 383.8L2249.4 468.8" fill="none" stroke="#D69B00" stroke-width="3.2" stroke-linecap="round" stroke-linejoin="round"/>
<ellipse cx="2249.4" cy="426" rx="0.9" ry="1.3" fill="#4F6FD0"/>
<path d="M2305.4 406.8L2305.4 447L2305.9 448L2307.7 451.6L2305.8 454.7L2307.6 458.4L2305.4 462.5L2307.7 465.8L2305.7 469.1L2307.6 473L2305.8 476.4L2307.9 480L2305.7 483.3L2307.9 486.7L2305.8 490L2307.2 493.4" fill="none" stroke="#27D600" stroke-width="7.7" stroke-linecap="round" stroke-linejoin="round"/>
<path d="M2305.9 448C2306.2 448.6 2307.7 450.5 2307.7 451.6C2307.7 452.7 2305.8 453.6 2305.8 454.7C2305.8 455.8 2307.7 457.1 2307.6 458.4C2307.5 459.7 2305.4 461.3 2305.4 462.5C2305.5 463.7 2307.7 464.7 2307.7 465.8C2307.8 466.9 2305.8 467.9 2305.7 469.1C2305.7 470.3 2307.5 471.8 2307.6 473C2307.6 474.2 2305.7 475.2 2305.8 476.4C2305.9 477.6 2308 478.8 2307.9 480C2307.9 481.1 2305.7 482.2 2305.7 483.3C2305.7 484.4 2307.9 485.6 2307.9 486.7C2307.9 487.8 2305.9 488.8 2305.8 490C2305.7 491.1 2307 492.8 2307.2 493.4" fill="none" stroke="#27D600" stroke-width="7.7" stroke-linecap="round" stroke-linejoin="round"/>
<path d="M2305.4 406.8L2305.4 447L2305.9 448L2307.7 451.6L2305.8 454.7L2307.6 458.4L2305.4 462.5L2307.7 465.8L2305.7 469.1L2307.6 473L2305.8 476.4L2307.9 480L2305.7 483.3L2307.9 486.7L2305.8 490L2307.2 493.4" fill="none" stroke="#75D600" stroke-width="6.7" stroke-linecap="round" stroke-linejoin="round"/>
<path d="M2305.9 448C2306.2 448.6 2307.7 450.5 2307.7 451.6C2307.7 452.7 2305.8 453.6 2305.8 454.7C2305.8 455.8 2307.7 457.1 2307.6 458.4C2307.5 459.7 2305.4 461.3 2305.4 462.5C2305.5 463.7 2307.7 464.7 2307.7 465.8C2307.8 466.9 2305.8 467.9 2305.7 469.1C2305.7 470.3 2307.5 471.8 2307.6 473C2307.6 474.2 2305.7 475.2 2305.8 476.4C2305.9 477.6 2308 478.8 2307.9 480C2307.9 481.1 2305.7 482.2 2305.7 483.3C2305.7 484.4 2307.9 485.6 2307.9 486.7C2307.9 487.8 2305.9 488.8 2305.8 490C2305.7 491.1 2307 492.8 2307.2 493.4" fill="none" stroke="#75D600" stroke-width="6.7" stroke-linecap="round" stroke-linejoin="round"/>
<path d="M2305.4 406.8L2305.4 447L2305.9 448L2307.7 451.6L2305.8 454.7L2307.6 458.4L2305.4 462.5L2307.7 465.8L2305.7 469.1L2307.6 473L2305.8 476.4L2307.9 480L2305.7 483.3L2307.9 486.7L2305.8 490L2307.2 493.4" fill="none" stroke="#C3D600" stroke-width="5.8" stroke-linecap="round" stroke-linejoin="round"/>
<path d="M2305.9 448C2306.2 448.6 2307.7 450.5 2307.7 451.6C2307.7 452.7 2305.8 453.6 2305.8 454.7C2305.8 455.8 2307.7 457.1 2307.6 458.4C2307.5 459.7 2305.4 461.3 2305.4 462.5C2305.5 463.7 2307.7 464.7 2307.7 465.8C2307.8 466.9 2305.8 467.9 2305.7 469.1C2305.7 470.3 2307.5 471.8 2307.6 473C2307.6 474.2 2305.7 475.2 2305.8 476.4C2305.9 477.6 2308 478.8 2307.9 480C2307.9 481.1 2305.7 482.2 2305.7 483.3C2305.7 484.4 2307.9 485.6 2307.9 486.7C2307.9 487.8 2305.9 488.8 2305.8 490C2305.7 491.1 2307 492.8 2307.2 493.4" fill="none" stroke="#C3D600" stroke-width="5.8" stroke-linecap="round" stroke-linejoin="round"/>
<path d="M2305.4 406.8L2305.4 447L2305.9 448L2307.7 451.6L2305.8 454.7L2307.6 458.4L2305.4 462.5L2307.7 465.8L2305.7 469.1L2307.6 473L2305.8 476.4L2307.9 480L2305.7 483.3L2307.9 486.7L2305.8 490L2307.2 493.4" fill="none" stroke="#D69B00" stroke-width="4.5" stroke-linecap="round" stroke-linejoin="round"/>
<path d="M2305.9 448C2306.2 448.6 2307.7 450.5 2307.7 451.6C2307.7 452.7 2305.8 453.6 2305.8 454.7C2305.8 455.8 2307.7 457.1 2307.6 458.4C2307.5 459.7 2305.4 461.3 2305.4 462.5C2305.5 463.7 2307.7 464.7 2307.7 465.8C2307.8 466.9 2305.8 467.9 2305.7 469.1C2305.7 470.3 2307.5 471.8 2307.6 473C2307.6 474.2 2305.7 475.2 2305.8 476.4C2305.9 477.6 2308 478.8 2307.9 480C2307.9 481.1 2305.7 482.2 2305.7 483.3C2305.7 484.4 2307.9 485.6 2307.9 486.7C2307.9 487.8 2305.9 488.8 2305.8 490C2305.7 491.1 2307 492.8 2307.2 493.4" fill="none" stroke="#D69B00" stroke-width="4.5" stroke-linecap="round" stroke-linejoin="round"/>
<path d="M2305.4 406.8L2305.4 447L2305.9 448L2307.7 451.6L2305.8 454.7L2307.6 458.4L2305.4 462.5L2307.7 465.8L2305.7 469.1L2307.6 473L2305.8 476.4L2307.9 480L2305.7 483.3L2307.9 486.7L2305.8 490L2307.2 493.4" fill="none" stroke="#D64E00" stroke-width="2.8" stroke-linecap="round" stroke-linejoin="round"/>
<path d="M2305.9 448C2306.2 448.6 2307.7 450.5 2307.7 451.6C2307.7 452.7 2305.8 453.6 2305.8 454.7C2305.8 455.8 2307.7 457.1 2307.6 458.4C2307.5 459.7 2305.4 461.3 2305.4 462.5C2305.5 463.7 2307.7 464.7 2307.7 465.8C2307.8 466.9 2305.8 467.9 2305.7 469.1C2305.7 470.3 2307.5 471.8 2307.6 473C2307.6 474.2 2305.7 475.2 2305.8 476.4C2305.9 477.6 2308 478.8 2307.9 480C2307.9 481.1 2305.7 482.2 2305.7 483.3C2305.7 484.4 2307.9 485.6 2307.9 486.7C2307.9 487.8 2305.9 488.8 2305.8 490C2305.7 491.1 2307 492.8 2307.2 493.4" fill="none" stroke="#D60000" stroke-width="2.8" stroke-linecap="round" stroke-linejoin="round"/>
<path d="M2305.9 448C2306.2 448.6 2307.7 450.5 2307.7 451.6C2307.7 452.7 2305.8 453.6 2305.8 454.7C2305.8 455.8 2307.7 457.1 2307.6 458.4C2307.5 459.7 2305.4 461.3 2305.4 462.5C2305.5 463.7 2307.7 464.7 2307.7 465.8C2307.8 466.9 2305.8 467.9 2305.7 469.1C2305.7 470.3 2307.5 471.8 2307.6 473C2307.6 474.2 2305.7 475.2 2305.8 476.4C2305.9 477.6 2308 478.8 2307.9 480C2307.9 481.1 2305.7 482.2 2305.7 483.3C2305.7 484.4 2307.9 485.6 2307.9 486.7C2307.9 487.8 2305.9 488.8 2305.8 490C2305.7 491.1 2307 492.8 2307.2 493.4" fill="none" stroke="#B2B2B2" stroke-width="1.4" stroke-linecap="round" stroke-linejoin="round"/>
<ellipse cx="2305.4" cy="426" rx="0.9" ry="1.3" fill="#4F6FD0"/>
<path d="M2362.1 355.6L2364 359.4L2362.1 362.8L2364.1 366.4L2361.9 370L2364.2 373.7L2362.3 377.7L2363.9 380.5L2362.3 384.8L2364.1 388.5L2362.4 391.5L2364.7 393L2364.7 409.5L2361.2 417L2361.2 437" fill="none" stroke="#27D600" stroke-width="8.1" stroke-linecap="round" stroke-linejoin="round"/>
<path d="M2362.1 355.6C2362.4 356.2 2364 358.2 2364 359.4C2364 360.6 2362.1 361.6 2362.1 362.8C2362.1 364 2364.1 365.2 2364.1 366.4C2364.1 367.6 2361.9 368.8 2361.9 370C2361.9 371.2 2364.2 372.4 2364.2 373.7C2364.3 374.9 2362.3 376.5 2362.3 377.7C2362.2 378.8 2363.9 379.4 2363.9 380.5C2363.9 381.7 2362.3 383.5 2362.3 384.8C2362.4 386.1 2364.1 387.4 2364.1 388.5C2364.1 389.6 2362.7 391 2362.4 391.5" fill="none" stroke="#27D600" stroke-width="8.2" stroke-linecap="round" stroke-linejoin="round"/>
<path d="M2364.3 410.2L2361.6 416" fill="none" stroke="#27D600" stroke-width="8.2" stroke-linecap="round" stroke-linejoin="round"/>
<path d="M2362.1 355.6L2364 359.4L2362.1 362.8L2364.1 366.4L2361.9 370L2364.2 373.7L2362.3 377.7L2363.9 380.5L2362.3 384.8L2364.1 388.5L2362.4 391.5L2364.7 393L2364.7 409.5L2361.2 417L2361.2 437" fill="none" stroke="#75D600" stroke-width="7.1" stroke-linecap="round" stroke-linejoin="round"/>
<path d="M2362.1 355.6C2362.4 356.2 2364 358.2 2364 359.4C2364 360.6 2362.1 361.6 2362.1 362.8C2362.1 364 2364.1 365.2 2364.1 366.4C2364.1 367.6 2361.9 368.8 2361.9 370C2361.9 371.2 2364.2 372.4 2364.2 373.7C2364.3 374.9 2362.3 376.5 2362.3 377.7C2362.2 378.8 2363.9 379.4 2363.9 380.5C2363.9 381.7 2362.3 383.5 2362.3 384.8C2362.4 386.1 2364.1 387.4 2364.1 388.5C2364.1 389.6 2362.7 391 2362.4 391.5" fill="none" stroke="#75D600" stroke-width="7.3" stroke-linecap="round" stroke-linejoin="round"/>
<path d="M2364.3 410.2L2361.6 416" fill="none" stroke="#75D600" stroke-width="7.3" stroke-linecap="round" stroke-linejoin="round"/>
<path d="M2362.1 355.6L2364 359.4L2362.1 362.8L2364.1 366.4L2361.9 370L2364.2 373.7L2362.3 377.7L2363.9 380.5L2362.3 384.8L2364.1 388.5L2362.4 391.5L2364.7 393L2364.7 409.5L2361.2 417L2361.2 437" fill="none" stroke="#C3D600" stroke-width="6.2" stroke-linecap="round" stroke-linejoin="round"/>
<path d="M2362.1 355.6C2362.4 356.2 2364 358.2 2364 359.4C2364 360.6 2362.1 361.6 2362.1 362.8C2362.1 364 2364.1 365.2 2364.1 366.4C2364.1 367.6 2361.9 368.8 2361.9 370C2361.9 371.2 2364.2 372.4 2364.2 373.7C2364.3 374.9 2362.3 376.5 2362.3 377.7C2362.2 378.8 2363.9 379.4 2363.9 380.5C2363.9 381.7 2362.3 383.5 2362.3 384.8C2362.4 386.1 2364.1 387.4 2364.1 388.5C2364.1 389.6 2362.7 391 2362.4 391.5" fill="none" stroke="#C3D600" stroke-width="6.5" stroke-linecap="round" stroke-linejoin="round"/>
<path d="M2364.3 410.2L2361.6 416" fill="none" stroke="#C3D600" stroke-width="6.5" stroke-linecap="round" stroke-linejoin="round"/>
<path d="M2362.1 355.6L2364 359.4L2362.1 362.8L2364.1 366.4L2361.9 370L2364.2 373.7L2362.3 377.7L2363.9 380.5L2362.3 384.8L2364.1 388.5L2362.4 391.5L2364.7 393L2364.7 409.5L2361.2 417L2361.2 437" fill="none" stroke="#D69B00" stroke-width="5.2" stroke-linecap="round" stroke-linejoin="round"/>
<path d="M2362.1 355.6C2362.4 356.2 2364 358.2 2364 359.4C2364 360.6 2362.1 361.6 2362.1 362.8C2362.1 364 2364.1 365.2 2364.1 366.4C2364.1 367.6 2361.9 368.8 2361.9 370C2361.9 371.2 2364.2 372.4 2364.2 373.7C2364.3 374.9 2362.3 376.5 2362.3 377.7C2362.2 378.8 2363.9 379.4 2363.9 380.5C2363.9 381.7 2362.3 383.5 2362.3 384.8C2362.4 386.1 2364.1 387.4 2364.1 388.5C2364.1 389.6 2362.7 391 2362.4 391.5" fill="none" stroke="#D69B00" stroke-width="5.5" stroke-linecap="round" stroke-linejoin="round"/>
<path d="M2364.3 410.2L2361.6 416" fill="none" stroke="#D69B00" stroke-width="5.5" stroke-linecap="round" stroke-linejoin="round"/>
<path d="M2362.1 355.6L2364 359.4L2362.1 362.8L2364.1 366.4L2361.9 370L2364.2 373.7L2362.3 377.7L2363.9 380.5L2362.3 384.8L2364.1 388.5L2362.4 391.5L2364.7 393L2364.7 409.5L2361.2 417L2361.2 437" fill="none" stroke="#D64E00" stroke-width="4.2" stroke-linecap="round" stroke-linejoin="round"/>
<path d="M2362.1 355.6C2362.4 356.2 2364 358.2 2364 359.4C2364 360.6 2362.1 361.6 2362.1 362.8C2362.1 364 2364.1 365.2 2364.1 366.4C2364.1 367.6 2361.9 368.8 2361.9 370C2361.9 371.2 2364.2 372.4 2364.2 373.7C2364.3 374.9 2362.3 376.5 2362.3 377.7C2362.2 378.8 2363.9 379.4 2363.9 380.5C2363.9 381.7 2362.3 383.5 2362.3 384.8C2362.4 386.1 2364.1 387.4 2364.1 388.5C2364.1 389.6 2362.7 391 2362.4 391.5" fill="none" stroke="#D64E00" stroke-width="4.5" stroke-linecap="round" stroke-linejoin="round"/>
<path d="M2364.3 410.2L2361.6 416" fill="none" stroke="#D64E00" stroke-width="4.5" stroke-linecap="round" stroke-linejoin="round"/>
<path d="M2362.1 355.6L2364 359.4L2362.1 362.8L2364.1 366.4L2361.9 370L2364.2 373.7L2362.3 377.7L2363.9 380.5L2362.3 384.8L2364.1 388.5L2362.4 391.5L2364.7 393L2364.7 409.5L2361.2 417L2361.2 437" fill="none" stroke="#D60000" stroke-width="2.8" stroke-linecap="round" stroke-linejoin="round"/>
<path d="M2362.1 355.6C2362.4 356.2 2364 358.2 2364 359.4C2364 360.6 2362.1 361.6 2362.1 362.8C2362.1 364 2364.1 365.2 2364.1 366.4C2364.1 367.6 2361.9 368.8 2361.9 370C2361.9 371.2 2364.2 372.4 2364.2 373.7C2364.3 374.9 2362.3 376.5 2362.3 377.7C2362.2 378.8 2363.9 379.4 2363.9 380.5C2363.9 381.7 2362.3 383.5 2362.3 384.8C2362.4 386.1 2364.1 387.4 2364.1 388.5C2364.1 389.6 2362.7 391 2362.4 391.5" fill="none" stroke="#D60000" stroke-width="3" stroke-linecap="round" stroke-linejoin="round"/>
<path d="M2364.3 410.2L2361.6 416" fill="none" stroke="#D60000" stroke-width="3" stroke-linecap="round" stroke-linejoin="round"/>
<path d="M2362.1 355.6C2362.4 356.2 2364 358.2 2364 359.4C2364 360.6 2362.1 361.6 2362.1 362.8C2362.1 364 2364.1 365.2 2364.1 366.4C2364.1 367.6 2361.9 368.8 2361.9 370C2361.9 371.2 2364.2 372.4 2364.2 373.7C2364.3 374.9 2362.3 376.5 2362.3 377.7C2362.2 378.8 2363.9 379.4 2363.9 380.5C2363.9 381.7 2362.3 383.5 2362.3 384.8C2362.4 386.1 2364.1 387.4 2364.1 388.5C2364.1 389.6 2362.7 391 2362.4 391.5" fill="none" stroke="#B2B2B2" stroke-width="1.6" stroke-linecap="round" stroke-linejoin="round"/>
<path d="M2364.3 410.2L2361.6 416" fill="none" stroke="#B2B2B2" stroke-width="1.6" stroke-linecap="round" stroke-linejoin="round"/>
<ellipse cx="2361.4" cy="425.6" rx="0.9" ry="1.3" fill="#4F6FD0"/>
</g></g>
</g>
<g class="lg">
<rect x="5.4" y="7.0" width="205.2" height="348.4" fill="#fff" stroke="#4a4a4a" stroke-width="1.6"/>
<text x="24.6" y="44.8" font-size="18.2" textLength="87.6" lengthAdjust="spacingAndGlyphs">PORPRES</text>
<text x="23.4" y="69.0" font-size="18.2" textLength="110.6" lengthAdjust="spacingAndGlyphs">(Avg: 75%)</text>
<rect x="24.3" y="88.8" width="26.6" height="19.1" fill="#C8C8C8" stroke="#000" stroke-width="1"/>
<rect x="24.3" y="107.8" width="26.6" height="19.1" fill="#FF0000" stroke="#000" stroke-width="1"/>
<rect x="24.3" y="126.9" width="26.6" height="19.1" fill="#FF5D00" stroke="#000" stroke-width="1"/>
<rect x="24.3" y="145.9" width="26.6" height="19.1" fill="#FFB900" stroke="#000" stroke-width="1"/>
<rect x="24.3" y="165" width="26.6" height="19.1" fill="#E8FF00" stroke="#000" stroke-width="1"/>
<rect x="24.3" y="184.1" width="26.6" height="19.1" fill="#8BFF00" stroke="#000" stroke-width="1"/>
<rect x="24.3" y="203.1" width="26.6" height="19.1" fill="#2EFF00" stroke="#000" stroke-width="1"/>
<rect x="24.3" y="222.1" width="26.6" height="19.1" fill="#00FF2E" stroke="#000" stroke-width="1"/>
<rect x="24.3" y="241.2" width="26.6" height="19.1" fill="#00FF8B" stroke="#000" stroke-width="1"/>
<rect x="24.3" y="260.2" width="26.6" height="19.1" fill="#00FFE8" stroke="#000" stroke-width="1"/>
<rect x="24.3" y="279.3" width="26.6" height="19.1" fill="#00B9FF" stroke="#000" stroke-width="1"/>
<rect x="24.3" y="298.4" width="26.6" height="19.1" fill="#005DFF" stroke="#000" stroke-width="1"/>
<rect x="24.3" y="317.4" width="26.6" height="19.1" fill="#0000FF" stroke="#000" stroke-width="1"/>
<rect x="50.9" y="88.3" width="10" height="1" fill="#000"/>
<text x="71.4" y="93.6" font-size="18.2" textLength="119.2" lengthAdjust="spacingAndGlyphs">+1.710e+07</text>
<rect x="50.9" y="107.3" width="10" height="1" fill="#000"/>
<text x="71.4" y="112.6" font-size="18.2" textLength="119.2" lengthAdjust="spacingAndGlyphs">+8.332e+06</text>
<rect x="50.9" y="126.4" width="10" height="1" fill="#000"/>
<text x="71.4" y="131.7" font-size="18.2" textLength="119.2" lengthAdjust="spacingAndGlyphs">+7.510e+06</text>
<rect x="50.9" y="145.4" width="10" height="1" fill="#000"/>
<text x="71.4" y="150.8" font-size="18.2" textLength="119.2" lengthAdjust="spacingAndGlyphs">+6.688e+06</text>
<rect x="50.9" y="164.5" width="10" height="1" fill="#000"/>
<text x="71.4" y="169.8" font-size="18.2" textLength="119.2" lengthAdjust="spacingAndGlyphs">+5.866e+06</text>
<rect x="50.9" y="183.6" width="10" height="1" fill="#000"/>
<text x="71.4" y="188.9" font-size="18.2" textLength="119.2" lengthAdjust="spacingAndGlyphs">+5.044e+06</text>
<rect x="50.9" y="202.6" width="10" height="1" fill="#000"/>
<text x="71.4" y="207.9" font-size="18.2" textLength="119.2" lengthAdjust="spacingAndGlyphs">+4.222e+06</text>
<rect x="50.9" y="221.6" width="10" height="1" fill="#000"/>
<text x="71.4" y="226.9" font-size="18.2" textLength="119.2" lengthAdjust="spacingAndGlyphs">+3.400e+06</text>
<rect x="50.9" y="240.7" width="10" height="1" fill="#000"/>
<text x="71.4" y="246" font-size="18.2" textLength="119.2" lengthAdjust="spacingAndGlyphs">+2.578e+06</text>
<rect x="50.9" y="259.8" width="10" height="1" fill="#000"/>
<text x="71.4" y="265.1" font-size="18.2" textLength="119.2" lengthAdjust="spacingAndGlyphs">+1.756e+06</text>
<rect x="50.9" y="278.8" width="10" height="1" fill="#000"/>
<text x="71.4" y="284.1" font-size="18.2" textLength="119.2" lengthAdjust="spacingAndGlyphs">+9.335e+05</text>
<rect x="50.9" y="297.9" width="10" height="1" fill="#000"/>
<text x="71.4" y="303.2" font-size="18.2" textLength="119.2" lengthAdjust="spacingAndGlyphs">+1.115e+05</text>
<rect x="50.9" y="316.9" width="10" height="1" fill="#000"/>
<text x="71.4" y="322.2" font-size="18.2" textLength="112.6" lengthAdjust="spacingAndGlyphs">-7.106e+05</text>
<rect x="50.9" y="335.9" width="10" height="1" fill="#000"/>
<text x="71.4" y="341.2" font-size="18.2" textLength="112.6" lengthAdjust="spacingAndGlyphs">-1.533e+06</text>
</g>
<g class="lg tri">
<text x="78.3" y="471.6" font-size="16.5" font-weight="bold" textLength="11.4" lengthAdjust="spacingAndGlyphs">Y</text>
<rect x="82.2" y="495.5" width="3.6" height="21" fill="#10C818"/>
<path d="M84 485 L88.3 497 L79.7 497Z" fill="#10C818"/>
<rect x="79" y="515.4" width="10.6" height="8.4" fill="#0C0CA8"/>
<rect x="89" y="517" width="18" height="4.4" fill="#B81418"/>
<path d="M118.8 519.2 L106 514 L106 524.4Z" fill="#A81014"/>
<text x="78.2" y="524.3" font-size="17" font-weight="bold" textLength="11.4" lengthAdjust="spacingAndGlyphs">Z</text>
<text x="127.8" y="524.3" font-size="17" font-weight="bold" textLength="14.8" lengthAdjust="spacingAndGlyphs">X</text>
</g>
<g class="cap">
<text x="362.6" y="651" font-size="67.4">(a) 15GPa</text>
<text x="959.1" y="651" font-size="67.4">(b) 20GPa</text>
<text x="1561.5" y="651" font-size="67.4">(c) 25GPa</text>
<text x="2160.3" y="651" font-size="67.4">(d) 30GPa</text>
</g>
</svg>
</body>
</html>
